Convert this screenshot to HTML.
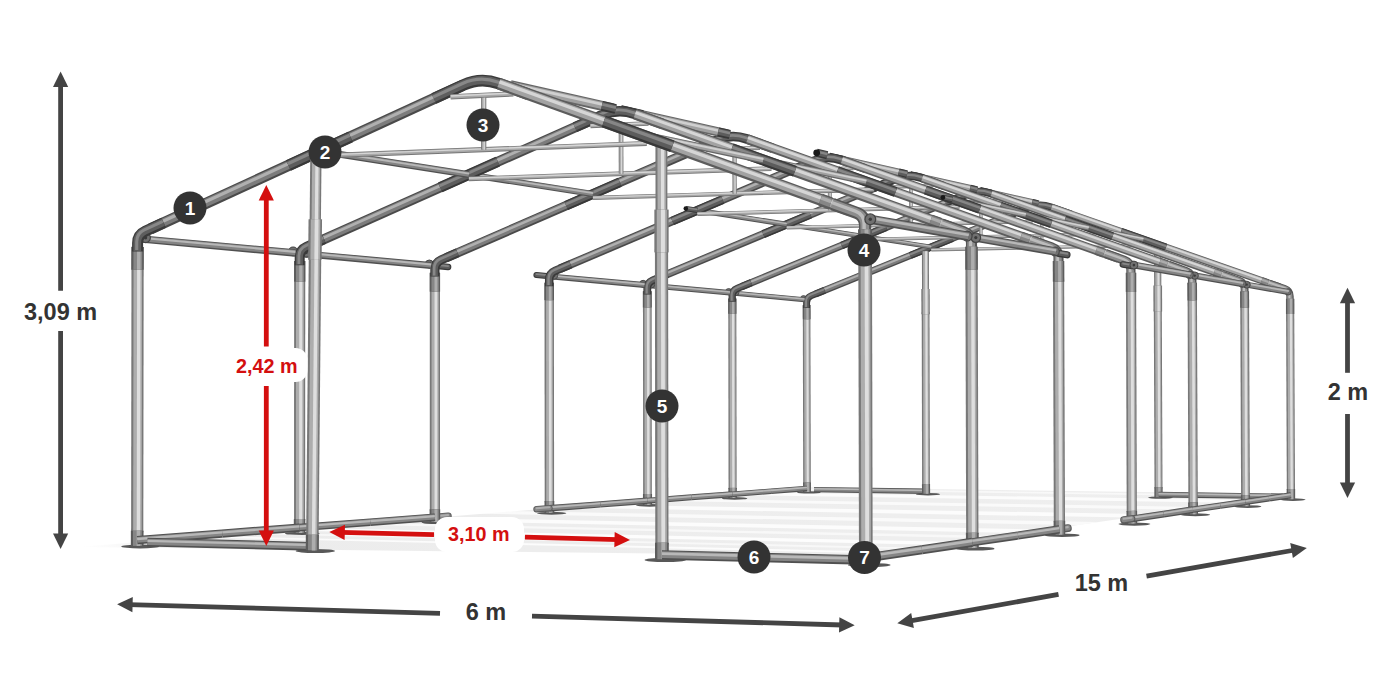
<!DOCTYPE html>
<html><head><meta charset="utf-8"><title>Tent frame 6 m x 15 m</title>
<style>html,body{margin:0;padding:0;background:#fff}svg{display:block}text{font-family:"Liberation Sans",sans-serif;font-weight:bold}</style>
</head><body>
<svg width="1400" height="700" viewBox="0 0 1400 700">
<rect width="1400" height="700" fill="#fff"/>
<g id="floor"><defs><linearGradient id="fg" x1="0" x2="1" y1="0" y2="0"><stop offset="0" stop-color="#f4f4f4" stop-opacity="0"/><stop offset="0.08" stop-color="#ececec"/><stop offset="1" stop-color="#efefef"/></linearGradient></defs><polygon points="78.0,547.0 865.8,555.9 1290.9,494.1 807.0,487.3 807.0,487.3" fill="url(#fg)"/><polygon points="129.8,535.7 882.1,553.5 893.5,551.9 147.2,534.4" fill="#fff" opacity="0.8"/><polygon points="174.4,532.4 911.2,549.3 921.9,547.7 191.0,531.1" fill="#fff" opacity="0.6"/><polygon points="220.0,529.0 940.7,545.0 960.7,542.1 251.2,526.7" fill="#fff" opacity="0.85"/><polygon points="292.9,523.5 987.4,538.2 1002.1,536.1 315.9,521.8" fill="#fff" opacity="0.6"/><polygon points="349.1,519.4 1023.1,533.0 1046.6,529.6 386.2,516.6" fill="#fff" opacity="0.8"/><polygon points="436.2,512.9 1078.0,525.1 1098.6,522.0 469.3,510.4" fill="#fff" opacity="0.7"/><polygon points="518.5,506.8 1129.2,517.6 1152.5,514.2 556.3,503.9" fill="#fff" opacity="0.8"/><polygon points="607.4,500.1 1183.9,509.7 1202.0,507.0 637.1,497.9" fill="#fff" opacity="0.7"/><polygon points="685.8,494.3 1231.6,502.7 1251.3,499.9 718.4,491.9" fill="#fff" opacity="0.8"/><polygon points="752.4,489.3 1271.7,496.9 1282.3,495.3 770.1,488.0" fill="#fff" opacity="0.6"/></g>
<g id="frame">
<ellipse cx="808.9" cy="492.4" rx="11.9" ry="1.2" fill="#585858"/>
<path d="M807.0 483.5 L806.6 305.1" stroke="#787878" stroke-width="7.6" stroke-linecap="butt" stroke-linejoin="round" fill="none"/><path d="M807.0 483.5 L806.6 305.1" transform="translate(0.15 0.00)" stroke="#adadad" stroke-width="5.3" stroke-linecap="butt" stroke-linejoin="round" fill="none"/><path d="M807.0 483.5 L806.6 305.1" transform="translate(0.76 0.00)" stroke="#dedede" stroke-width="2.1" stroke-linecap="butt" stroke-linejoin="round" fill="none"/>
<path d="M806.7 319.3 L806.6 305.1" stroke="#5c5c5c" stroke-width="7.8" stroke-linecap="butt" stroke-linejoin="round" fill="none"/><path d="M806.7 319.3 L806.6 305.1" transform="translate(0.16 0.00)" stroke="#868686" stroke-width="5.4" stroke-linecap="butt" stroke-linejoin="round" fill="none"/><path d="M806.7 319.3 L806.6 305.1" transform="translate(0.78 0.00)" stroke="#adadad" stroke-width="2.2" stroke-linecap="butt" stroke-linejoin="round" fill="none"/>
<path d="M807.0 492.0 L807.0 482.5" stroke="#5c5c5c" stroke-width="7.9" stroke-linecap="butt" stroke-linejoin="round" fill="none"/><path d="M807.0 492.0 L807.0 482.5" transform="translate(0.16 0.00)" stroke="#868686" stroke-width="5.6" stroke-linecap="butt" stroke-linejoin="round" fill="none"/><path d="M807.0 492.0 L807.0 482.5" transform="translate(0.79 0.00)" stroke="#adadad" stroke-width="2.2" stroke-linecap="butt" stroke-linejoin="round" fill="none"/>
<path d="M771.0 491.2 L807.0 488.4" stroke="#505050" stroke-width="5.5" stroke-linecap="butt" stroke-linejoin="round" fill="none"/><path d="M771.0 491.2 L807.0 488.4" transform="translate(-0.02 -0.22)" stroke="#858585" stroke-width="3.9" stroke-linecap="butt" stroke-linejoin="round" fill="none"/><path d="M771.0 491.2 L807.0 488.4" transform="translate(-0.06 -0.83)" stroke="#b8b8b8" stroke-width="1.6" stroke-linecap="butt" stroke-linejoin="round" fill="none"/>
<ellipse cx="928.0" cy="494.2" rx="12.1" ry="1.2" fill="#585858"/>
<path d="M814.0 489.6 L926.1 491.3" stroke="#505050" stroke-width="5.4" stroke-linecap="butt" stroke-linejoin="round" fill="none"/><path d="M814.0 489.6 L926.1 491.3" transform="translate(0.00 -0.22)" stroke="#858585" stroke-width="3.8" stroke-linecap="butt" stroke-linejoin="round" fill="none"/><path d="M814.0 489.6 L926.1 491.3" transform="translate(0.01 -0.81)" stroke="#b8b8b8" stroke-width="1.5" stroke-linecap="butt" stroke-linejoin="round" fill="none"/>
<circle cx="803.5" cy="298.6" r="3.0" fill="#707070" stroke="#444" stroke-width="0.8"/><circle cx="803.5" cy="298.6" r="1.0" fill="#3a3a3a"/>
<path d="M815.6 293.9 L1027.6 207.9" stroke="#4a4a4a" stroke-width="7.0" stroke-linecap="butt" stroke-linejoin="round" fill="none"/><path d="M815.6 293.9 L1027.6 207.9" transform="translate(-0.10 -0.26)" stroke="#7c7c7c" stroke-width="4.9" stroke-linecap="butt" stroke-linejoin="round" fill="none"/><path d="M815.6 293.9 L1027.6 207.9" transform="translate(-0.39 -0.97)" stroke="#b0b0b0" stroke-width="2.0" stroke-linecap="butt" stroke-linejoin="round" fill="none"/>
<path d="M910.3 255.5 L952.4 238.4" stroke="#383838" stroke-width="7.2" stroke-linecap="butt" stroke-linejoin="round" fill="none"/><path d="M910.3 255.5 L952.4 238.4" transform="translate(-0.11 -0.27)" stroke="#5c5c5c" stroke-width="5.0" stroke-linecap="butt" stroke-linejoin="round" fill="none"/><path d="M910.3 255.5 L952.4 238.4" transform="translate(-0.41 -1.00)" stroke="#868686" stroke-width="2.0" stroke-linecap="butt" stroke-linejoin="round" fill="none"/>
<path d="M925.6 314.2 L925.4 251.3" stroke="#787878" stroke-width="7.0" stroke-linecap="butt" stroke-linejoin="round" fill="none"/><path d="M925.6 314.2 L925.4 251.3" transform="translate(0.14 0.00)" stroke="#adadad" stroke-width="4.9" stroke-linecap="butt" stroke-linejoin="round" fill="none"/><path d="M925.6 314.2 L925.4 251.3" transform="translate(0.70 0.00)" stroke="#dedede" stroke-width="2.0" stroke-linecap="butt" stroke-linejoin="round" fill="none"/>
<path d="M806.6 307.9 L806.6 302.7 Q806.6 297.5 811.4 295.6 L824.7 290.2" stroke="#3a3a3a" stroke-width="6.9" stroke-linecap="butt" stroke-linejoin="round" fill="none"/><path d="M806.6 307.9 L806.6 302.7 Q806.6 297.5 811.4 295.6 L824.7 290.2" transform="translate(-0.21 -0.27)" stroke="#5e5e5e" stroke-width="4.8" stroke-linecap="butt" stroke-linejoin="round" fill="none"/><path d="M806.6 307.9 L806.6 302.7 Q806.6 297.5 811.4 295.6 L824.7 290.2" transform="translate(-0.55 -0.89)" stroke="#888888" stroke-width="1.9" stroke-linecap="butt" stroke-linejoin="round" fill="none"/>
<path d="M1008.4 215.7 L1028.9 207.4 Q1039.6 203.0 1050.6 206.9 L1071.2 214.1" stroke="#3a3a3a" stroke-width="7.1" stroke-linecap="butt" stroke-linejoin="round" fill="none"/><path d="M1008.4 215.7 L1028.9 207.4 Q1039.6 203.0 1050.6 206.9 L1071.2 214.1" transform="translate(-0.21 -0.28)" stroke="#5e5e5e" stroke-width="5.0" stroke-linecap="butt" stroke-linejoin="round" fill="none"/><path d="M1008.4 215.7 L1028.9 207.4 Q1039.6 203.0 1050.6 206.9 L1071.2 214.1" transform="translate(-0.57 -0.92)" stroke="#888888" stroke-width="2.0" stroke-linecap="butt" stroke-linejoin="round" fill="none"/>
<path d="M926.0 485.1 L925.6 312.2" stroke="#787878" stroke-width="7.8" stroke-linecap="butt" stroke-linejoin="round" fill="none"/><path d="M926.0 485.1 L925.6 312.2" transform="translate(0.16 0.00)" stroke="#adadad" stroke-width="5.4" stroke-linecap="butt" stroke-linejoin="round" fill="none"/><path d="M926.0 485.1 L925.6 312.2" transform="translate(0.78 0.00)" stroke="#dedede" stroke-width="2.2" stroke-linecap="butt" stroke-linejoin="round" fill="none"/>
<path d="M925.6 314.2 L925.5 289.1" stroke="#787878" stroke-width="8.4" stroke-linecap="butt" stroke-linejoin="round" fill="none"/><path d="M925.6 314.2 L925.5 289.1" transform="translate(0.17 0.00)" stroke="#adadad" stroke-width="5.9" stroke-linecap="butt" stroke-linejoin="round" fill="none"/><path d="M925.6 314.2 L925.5 289.1" transform="translate(0.84 0.00)" stroke="#dedede" stroke-width="2.3" stroke-linecap="butt" stroke-linejoin="round" fill="none"/>
<path d="M926.1 493.8 L926.0 484.1" stroke="#5c5c5c" stroke-width="8.1" stroke-linecap="butt" stroke-linejoin="round" fill="none"/><path d="M926.1 493.8 L926.0 484.1" transform="translate(0.16 0.00)" stroke="#868686" stroke-width="5.6" stroke-linecap="butt" stroke-linejoin="round" fill="none"/><path d="M926.1 493.8 L926.0 484.1" transform="translate(0.81 0.00)" stroke="#adadad" stroke-width="2.3" stroke-linecap="butt" stroke-linejoin="round" fill="none"/>
<path d="M734.6 293.3 L804.5 299.7" stroke="#505050" stroke-width="5.0" stroke-linecap="butt" stroke-linejoin="round" fill="none"/><path d="M734.6 293.3 L804.5 299.7" transform="translate(0.02 -0.20)" stroke="#848484" stroke-width="3.5" stroke-linecap="butt" stroke-linejoin="round" fill="none"/><path d="M734.6 293.3 L804.5 299.7" transform="translate(0.07 -0.75)" stroke="#b8b8b8" stroke-width="1.4" stroke-linecap="butt" stroke-linejoin="round" fill="none"/>
<path d="M931.3 249.9 L1149.3 245.3" stroke="#767676" stroke-width="3.2" stroke-linecap="butt" stroke-linejoin="round" fill="none"/><path d="M931.3 249.9 L1149.3 245.3" transform="translate(-0.00 -0.13)" stroke="#a8a8a8" stroke-width="2.2" stroke-linecap="butt" stroke-linejoin="round" fill="none"/><path d="M931.3 249.9 L1149.3 245.3" transform="translate(-0.01 -0.47)" stroke="#d6d6d6" stroke-width="0.9" stroke-linecap="butt" stroke-linejoin="round" fill="none"/>
<path d="M1019.6 214.8 L1061.5 213.8" stroke="#767676" stroke-width="3.2" stroke-linecap="butt" stroke-linejoin="round" fill="none"/><path d="M1019.6 214.8 L1061.5 213.8" transform="translate(-0.00 -0.13)" stroke="#a8a8a8" stroke-width="2.2" stroke-linecap="butt" stroke-linejoin="round" fill="none"/><path d="M1019.6 214.8 L1061.5 213.8" transform="translate(-0.01 -0.47)" stroke="#d6d6d6" stroke-width="0.9" stroke-linecap="butt" stroke-linejoin="round" fill="none"/>
<path d="M1041.7 215.7 L1041.8 247.6" stroke="#767676" stroke-width="3.2" stroke-linecap="butt" stroke-linejoin="round" fill="none"/><path d="M1041.7 215.7 L1041.8 247.6" transform="translate(0.06 0.00)" stroke="#a8a8a8" stroke-width="2.2" stroke-linecap="butt" stroke-linejoin="round" fill="none"/><path d="M1041.7 215.7 L1041.8 247.6" transform="translate(0.32 0.00)" stroke="#d6d6d6" stroke-width="0.9" stroke-linecap="butt" stroke-linejoin="round" fill="none"/>
<ellipse cx="1160.5" cy="497.6" rx="12.5" ry="1.2" fill="#585858"/>
<path d="M863.9 236.4 L931.3 247.0" stroke="#505050" stroke-width="4.6" stroke-linecap="butt" stroke-linejoin="round" fill="none"/><path d="M863.9 236.4 L931.3 247.0" transform="translate(0.03 -0.18)" stroke="#848484" stroke-width="3.2" stroke-linecap="butt" stroke-linejoin="round" fill="none"/><path d="M863.9 236.4 L931.3 247.0" transform="translate(0.11 -0.68)" stroke="#b8b8b8" stroke-width="1.3" stroke-linecap="butt" stroke-linejoin="round" fill="none"/>
<path d="M1157.8 311.5 L1157.6 246.3" stroke="#787878" stroke-width="7.2" stroke-linecap="butt" stroke-linejoin="round" fill="none"/><path d="M1157.8 311.5 L1157.6 246.3" transform="translate(0.14 0.00)" stroke="#adadad" stroke-width="5.0" stroke-linecap="butt" stroke-linejoin="round" fill="none"/><path d="M1157.8 311.5 L1157.6 246.3" transform="translate(0.72 0.00)" stroke="#dedede" stroke-width="2.0" stroke-linecap="butt" stroke-linejoin="round" fill="none"/>
<path d="M1279.7 287.0 L1051.7 207.3" stroke="#5c5c5c" stroke-width="7.2" stroke-linecap="butt" stroke-linejoin="round" fill="none"/><path d="M1279.7 287.0 L1051.7 207.3" transform="translate(0.10 -0.27)" stroke="#a2a2a2" stroke-width="5.1" stroke-linecap="butt" stroke-linejoin="round" fill="none"/><path d="M1279.7 287.0 L1051.7 207.3" transform="translate(0.36 -1.02)" stroke="#d6d6d6" stroke-width="2.0" stroke-linecap="butt" stroke-linejoin="round" fill="none"/>
<path d="M1158.5 488.2 L1157.8 309.5" stroke="#787878" stroke-width="8.0" stroke-linecap="butt" stroke-linejoin="round" fill="none"/><path d="M1158.5 488.2 L1157.8 309.5" transform="translate(0.16 0.00)" stroke="#adadad" stroke-width="5.6" stroke-linecap="butt" stroke-linejoin="round" fill="none"/><path d="M1158.5 488.2 L1157.8 309.5" transform="translate(0.80 0.00)" stroke="#dedede" stroke-width="2.2" stroke-linecap="butt" stroke-linejoin="round" fill="none"/>
<path d="M1157.8 311.5 L1157.7 285.6" stroke="#787878" stroke-width="8.7" stroke-linecap="butt" stroke-linejoin="round" fill="none"/><path d="M1157.8 311.5 L1157.7 285.6" transform="translate(0.17 0.00)" stroke="#adadad" stroke-width="6.1" stroke-linecap="butt" stroke-linejoin="round" fill="none"/><path d="M1157.8 311.5 L1157.7 285.6" transform="translate(0.87 0.00)" stroke="#dedede" stroke-width="2.4" stroke-linecap="butt" stroke-linejoin="round" fill="none"/>
<path d="M1165.9 247.2 L1121.1 231.6" stroke="#383838" stroke-width="7.4" stroke-linecap="butt" stroke-linejoin="round" fill="none"/><path d="M1165.9 247.2 L1121.1 231.6" transform="translate(0.10 -0.28)" stroke="#5c5c5c" stroke-width="5.2" stroke-linecap="butt" stroke-linejoin="round" fill="none"/><path d="M1165.9 247.2 L1121.1 231.6" transform="translate(0.37 -1.05)" stroke="#868686" stroke-width="2.1" stroke-linecap="butt" stroke-linejoin="round" fill="none"/>
<ellipse cx="734.6" cy="498.4" rx="12.7" ry="1.3" fill="#585858"/>
<path d="M1158.5 497.2 L1158.5 487.2" stroke="#5c5c5c" stroke-width="8.3" stroke-linecap="butt" stroke-linejoin="round" fill="none"/><path d="M1158.5 497.2 L1158.5 487.2" transform="translate(0.17 0.00)" stroke="#868686" stroke-width="5.8" stroke-linecap="butt" stroke-linejoin="round" fill="none"/><path d="M1158.5 497.2 L1158.5 487.2" transform="translate(0.83 0.00)" stroke="#adadad" stroke-width="2.3" stroke-linecap="butt" stroke-linejoin="round" fill="none"/>
<path d="M1290.1 301.9 L1290.0 296.3 Q1290.0 290.7 1284.7 288.8 L1269.3 283.4" stroke="#565656" stroke-width="7.4" stroke-linecap="butt" stroke-linejoin="round" fill="none"/><path d="M1290.1 301.9 L1290.0 296.3 Q1290.0 290.7 1284.7 288.8 L1269.3 283.4" transform="translate(-0.22 -0.29)" stroke="#8c8c8c" stroke-width="5.2" stroke-linecap="butt" stroke-linejoin="round" fill="none"/><path d="M1290.1 301.9 L1290.0 296.3 Q1290.0 290.7 1284.7 288.8 L1269.3 283.4" transform="translate(-0.59 -0.96)" stroke="#bcbcbc" stroke-width="2.1" stroke-linecap="butt" stroke-linejoin="round" fill="none"/>
<path d="M1268.0 283.0 L1261.6 280.7" stroke="#5c5c5c" stroke-width="7.5" stroke-linecap="butt" stroke-linejoin="round" fill="none"/><path d="M1268.0 283.0 L1261.6 280.7" transform="translate(0.10 -0.28)" stroke="#868686" stroke-width="5.2" stroke-linecap="butt" stroke-linejoin="round" fill="none"/><path d="M1268.0 283.0 L1261.6 280.7" transform="translate(0.37 -1.06)" stroke="#adadad" stroke-width="2.1" stroke-linecap="butt" stroke-linejoin="round" fill="none"/>
<ellipse cx="1292.9" cy="499.6" rx="12.7" ry="1.3" fill="#585858"/>
<path d="M1158.5 494.6 L1282.8 496.4" stroke="#505050" stroke-width="5.7" stroke-linecap="butt" stroke-linejoin="round" fill="none"/><path d="M1158.5 494.6 L1282.8 496.4" transform="translate(0.00 -0.23)" stroke="#858585" stroke-width="4.0" stroke-linecap="butt" stroke-linejoin="round" fill="none"/><path d="M1158.5 494.6 L1282.8 496.4" transform="translate(0.01 -0.86)" stroke="#b8b8b8" stroke-width="1.6" stroke-linecap="butt" stroke-linejoin="round" fill="none"/>
<path d="M732.6 488.9 L732.3 298.6" stroke="#787878" stroke-width="8.1" stroke-linecap="butt" stroke-linejoin="round" fill="none"/><path d="M732.6 488.9 L732.3 298.6" transform="translate(0.16 0.00)" stroke="#adadad" stroke-width="5.7" stroke-linecap="butt" stroke-linejoin="round" fill="none"/><path d="M732.6 488.9 L732.3 298.6" transform="translate(0.81 0.00)" stroke="#dedede" stroke-width="2.3" stroke-linecap="butt" stroke-linejoin="round" fill="none"/>
<path d="M732.3 313.8 L732.3 298.6" stroke="#5c5c5c" stroke-width="8.3" stroke-linecap="butt" stroke-linejoin="round" fill="none"/><path d="M732.3 313.8 L732.3 298.6" transform="translate(0.17 0.00)" stroke="#868686" stroke-width="5.8" stroke-linecap="butt" stroke-linejoin="round" fill="none"/><path d="M732.3 313.8 L732.3 298.6" transform="translate(0.83 0.00)" stroke="#adadad" stroke-width="2.3" stroke-linecap="butt" stroke-linejoin="round" fill="none"/>
<path d="M732.6 498.0 L732.6 487.9" stroke="#5c5c5c" stroke-width="8.5" stroke-linecap="butt" stroke-linejoin="round" fill="none"/><path d="M732.6 498.0 L732.6 487.9" transform="translate(0.17 0.00)" stroke="#868686" stroke-width="5.9" stroke-linecap="butt" stroke-linejoin="round" fill="none"/><path d="M732.6 498.0 L732.6 487.9" transform="translate(0.85 0.00)" stroke="#adadad" stroke-width="2.4" stroke-linecap="butt" stroke-linejoin="round" fill="none"/>
<path d="M979.9 190.6 L1037.3 203.5" stroke="#666666" stroke-width="6.8" stroke-linecap="butt" stroke-linejoin="round" fill="none"/><path d="M979.9 190.6 L1037.3 203.5" transform="translate(0.06 -0.26)" stroke="#a0a0a0" stroke-width="4.7" stroke-linecap="butt" stroke-linejoin="round" fill="none"/><path d="M979.9 190.6 L1037.3 203.5" transform="translate(0.22 -0.99)" stroke="#d0d0d0" stroke-width="1.9" stroke-linecap="butt" stroke-linejoin="round" fill="none"/>
<path d="M979.9 190.6 L991.5 193.2" stroke="#383838" stroke-width="7.2" stroke-linecap="butt" stroke-linejoin="round" fill="none"/><path d="M979.9 190.6 L991.5 193.2" transform="translate(0.06 -0.28)" stroke="#5c5c5c" stroke-width="5.0" stroke-linecap="butt" stroke-linejoin="round" fill="none"/><path d="M979.9 190.6 L991.5 193.2" transform="translate(0.24 -1.05)" stroke="#868686" stroke-width="2.0" stroke-linecap="butt" stroke-linejoin="round" fill="none"/>
<path d="M1032.2 202.3 L1038.5 203.8" stroke="#383838" stroke-width="6.8" stroke-linecap="butt" stroke-linejoin="round" fill="none"/><path d="M1032.2 202.3 L1038.5 203.8" transform="translate(0.06 -0.26)" stroke="#5c5c5c" stroke-width="4.7" stroke-linecap="butt" stroke-linejoin="round" fill="none"/><path d="M1032.2 202.3 L1038.5 203.8" transform="translate(0.22 -0.99)" stroke="#868686" stroke-width="1.9" stroke-linecap="butt" stroke-linejoin="round" fill="none"/>
<path d="M691.5 497.3 L732.6 494.2" stroke="#505050" stroke-width="5.9" stroke-linecap="butt" stroke-linejoin="round" fill="none"/><path d="M691.5 497.3 L732.6 494.2" transform="translate(-0.02 -0.24)" stroke="#858585" stroke-width="4.2" stroke-linecap="butt" stroke-linejoin="round" fill="none"/><path d="M691.5 497.3 L732.6 494.2" transform="translate(-0.07 -0.89)" stroke="#b8b8b8" stroke-width="1.7" stroke-linecap="butt" stroke-linejoin="round" fill="none"/>
<path d="M732.6 494.2 L771.0 491.2" stroke="#505050" stroke-width="5.5" stroke-linecap="butt" stroke-linejoin="round" fill="none"/><path d="M732.6 494.2 L771.0 491.2" transform="translate(-0.02 -0.22)" stroke="#858585" stroke-width="3.9" stroke-linecap="butt" stroke-linejoin="round" fill="none"/><path d="M732.6 494.2 L771.0 491.2" transform="translate(-0.06 -0.83)" stroke="#b8b8b8" stroke-width="1.6" stroke-linecap="butt" stroke-linejoin="round" fill="none"/>
<path d="M1290.9 490.0 L1290.1 298.8" stroke="#787878" stroke-width="8.2" stroke-linecap="butt" stroke-linejoin="round" fill="none"/><path d="M1290.9 490.0 L1290.1 298.8" transform="translate(0.16 0.00)" stroke="#adadad" stroke-width="5.7" stroke-linecap="butt" stroke-linejoin="round" fill="none"/><path d="M1290.9 490.0 L1290.1 298.8" transform="translate(0.82 0.00)" stroke="#dedede" stroke-width="2.3" stroke-linecap="butt" stroke-linejoin="round" fill="none"/>
<path d="M1290.1 314.0 L1290.1 298.8" stroke="#5c5c5c" stroke-width="8.3" stroke-linecap="butt" stroke-linejoin="round" fill="none"/><path d="M1290.1 314.0 L1290.1 298.8" transform="translate(0.17 0.00)" stroke="#868686" stroke-width="5.8" stroke-linecap="butt" stroke-linejoin="round" fill="none"/><path d="M1290.1 314.0 L1290.1 298.8" transform="translate(0.83 0.00)" stroke="#adadad" stroke-width="2.3" stroke-linecap="butt" stroke-linejoin="round" fill="none"/>
<path d="M1290.9 499.2 L1290.9 489.0" stroke="#5c5c5c" stroke-width="8.5" stroke-linecap="butt" stroke-linejoin="round" fill="none"/><path d="M1290.9 499.2 L1290.9 489.0" transform="translate(0.17 0.00)" stroke="#868686" stroke-width="6.0" stroke-linecap="butt" stroke-linejoin="round" fill="none"/><path d="M1290.9 499.2 L1290.9 489.0" transform="translate(0.85 0.00)" stroke="#adadad" stroke-width="2.4" stroke-linecap="butt" stroke-linejoin="round" fill="none"/>
<path d="M1269.0 498.5 L1290.9 495.3" stroke="#505050" stroke-width="6.0" stroke-linecap="butt" stroke-linejoin="round" fill="none"/><path d="M1269.0 498.5 L1290.9 495.3" transform="translate(-0.03 -0.24)" stroke="#858585" stroke-width="4.2" stroke-linecap="butt" stroke-linejoin="round" fill="none"/><path d="M1269.0 498.5 L1290.9 495.3" transform="translate(-0.13 -0.88)" stroke="#b8b8b8" stroke-width="1.7" stroke-linecap="butt" stroke-linejoin="round" fill="none"/>
<circle cx="735.8" cy="292.4" r="3.2" fill="#707070" stroke="#444" stroke-width="0.8"/><circle cx="735.8" cy="292.4" r="1.0" fill="#3a3a3a"/>
<circle cx="728.7" cy="291.7" r="3.2" fill="#707070" stroke="#444" stroke-width="0.8"/><circle cx="728.7" cy="291.7" r="1.0" fill="#3a3a3a"/>
<path d="M1088.7 228.0 L1143.4 239.4" stroke="#666666" stroke-width="4.7" stroke-linecap="butt" stroke-linejoin="round" fill="none"/><path d="M1088.7 228.0 L1143.4 239.4" transform="translate(0.04 -0.19)" stroke="#a0a0a0" stroke-width="3.3" stroke-linecap="butt" stroke-linejoin="round" fill="none"/><path d="M1088.7 228.0 L1143.4 239.4" transform="translate(0.15 -0.70)" stroke="#d0d0d0" stroke-width="1.3" stroke-linecap="butt" stroke-linejoin="round" fill="none"/>
<path d="M741.8 286.6 L965.9 194.5" stroke="#4a4a4a" stroke-width="7.5" stroke-linecap="butt" stroke-linejoin="round" fill="none"/><path d="M741.8 286.6 L965.9 194.5" transform="translate(-0.11 -0.28)" stroke="#7c7c7c" stroke-width="5.2" stroke-linecap="butt" stroke-linejoin="round" fill="none"/><path d="M741.8 286.6 L965.9 194.5" transform="translate(-0.43 -1.03)" stroke="#b0b0b0" stroke-width="2.1" stroke-linecap="butt" stroke-linejoin="round" fill="none"/>
<path d="M841.7 245.5 L886.2 227.3" stroke="#383838" stroke-width="7.7" stroke-linecap="butt" stroke-linejoin="round" fill="none"/><path d="M841.7 245.5 L886.2 227.3" transform="translate(-0.12 -0.28)" stroke="#5c5c5c" stroke-width="5.4" stroke-linecap="butt" stroke-linejoin="round" fill="none"/><path d="M841.7 245.5 L886.2 227.3" transform="translate(-0.44 -1.07)" stroke="#868686" stroke-width="2.2" stroke-linecap="butt" stroke-linejoin="round" fill="none"/>
<path d="M732.3 301.7 L732.2 296.1 Q732.2 290.5 737.4 288.4 L751.3 282.7" stroke="#3a3a3a" stroke-width="7.3" stroke-linecap="butt" stroke-linejoin="round" fill="none"/><path d="M732.3 301.7 L732.2 296.1 Q732.2 290.5 737.4 288.4 L751.3 282.7" transform="translate(-0.22 -0.29)" stroke="#5e5e5e" stroke-width="5.1" stroke-linecap="butt" stroke-linejoin="round" fill="none"/><path d="M732.3 301.7 L732.2 296.1 Q732.2 290.5 737.4 288.4 L751.3 282.7" transform="translate(-0.59 -0.95)" stroke="#888888" stroke-width="2.1" stroke-linecap="butt" stroke-linejoin="round" fill="none"/>
<path d="M945.6 202.9 L967.1 194.0 Q978.6 189.3 990.4 193.4 L1012.1 201.0" stroke="#3a3a3a" stroke-width="7.6" stroke-linecap="butt" stroke-linejoin="round" fill="none"/><path d="M945.6 202.9 L967.1 194.0 Q978.6 189.3 990.4 193.4 L1012.1 201.0" transform="translate(-0.23 -0.30)" stroke="#5e5e5e" stroke-width="5.3" stroke-linecap="butt" stroke-linejoin="round" fill="none"/><path d="M945.6 202.9 L967.1 194.0 Q978.6 189.3 990.4 193.4 L1012.1 201.0" transform="translate(-0.61 -0.99)" stroke="#888888" stroke-width="2.1" stroke-linecap="butt" stroke-linejoin="round" fill="none"/>
<circle cx="1288.1" cy="291.9" r="3.2" fill="#707070" stroke="#444" stroke-width="0.8"/><circle cx="1288.1" cy="291.9" r="1.0" fill="#3a3a3a"/>
<path d="M650.0 285.5 L729.9 292.8" stroke="#505050" stroke-width="5.4" stroke-linecap="butt" stroke-linejoin="round" fill="none"/><path d="M650.0 285.5 L729.9 292.8" transform="translate(0.02 -0.21)" stroke="#848484" stroke-width="3.8" stroke-linecap="butt" stroke-linejoin="round" fill="none"/><path d="M650.0 285.5 L729.9 292.8" transform="translate(0.07 -0.80)" stroke="#b8b8b8" stroke-width="1.5" stroke-linecap="butt" stroke-linejoin="round" fill="none"/>
<path d="M863.9 239.5 L1094.9 234.3" stroke="#767676" stroke-width="3.4" stroke-linecap="butt" stroke-linejoin="round" fill="none"/><path d="M863.9 239.5 L1094.9 234.3" transform="translate(-0.00 -0.14)" stroke="#a8a8a8" stroke-width="2.4" stroke-linecap="butt" stroke-linejoin="round" fill="none"/><path d="M863.9 239.5 L1094.9 234.3" transform="translate(-0.01 -0.51)" stroke="#d6d6d6" stroke-width="0.9" stroke-linecap="butt" stroke-linejoin="round" fill="none"/>
<path d="M957.4 201.9 L1001.8 200.7" stroke="#767676" stroke-width="3.4" stroke-linecap="butt" stroke-linejoin="round" fill="none"/><path d="M957.4 201.9 L1001.8 200.7" transform="translate(-0.00 -0.14)" stroke="#a8a8a8" stroke-width="2.4" stroke-linecap="butt" stroke-linejoin="round" fill="none"/><path d="M957.4 201.9 L1001.8 200.7" transform="translate(-0.01 -0.51)" stroke="#d6d6d6" stroke-width="0.9" stroke-linecap="butt" stroke-linejoin="round" fill="none"/>
<path d="M980.8 202.9 L980.9 236.9" stroke="#767676" stroke-width="3.4" stroke-linecap="butt" stroke-linejoin="round" fill="none"/><path d="M980.8 202.9 L980.9 236.9" transform="translate(0.07 0.00)" stroke="#a8a8a8" stroke-width="2.4" stroke-linecap="butt" stroke-linejoin="round" fill="none"/><path d="M980.8 202.9 L980.9 236.9" transform="translate(0.34 0.00)" stroke="#d6d6d6" stroke-width="0.9" stroke-linecap="butt" stroke-linejoin="round" fill="none"/>
<path d="M1246.1 284.6 L1288.7 292.0" stroke="#505050" stroke-width="6.0" stroke-linecap="butt" stroke-linejoin="round" fill="none"/><path d="M1246.1 284.6 L1288.7 292.0" transform="translate(0.04 -0.24)" stroke="#848484" stroke-width="4.2" stroke-linecap="butt" stroke-linejoin="round" fill="none"/><path d="M1246.1 284.6 L1288.7 292.0" transform="translate(0.16 -0.89)" stroke="#b8b8b8" stroke-width="1.7" stroke-linecap="butt" stroke-linejoin="round" fill="none"/>
<path d="M786.7 224.4 L863.9 236.4" stroke="#505050" stroke-width="4.9" stroke-linecap="butt" stroke-linejoin="round" fill="none"/><path d="M786.7 224.4 L863.9 236.4" transform="translate(0.03 -0.19)" stroke="#848484" stroke-width="3.4" stroke-linecap="butt" stroke-linejoin="round" fill="none"/><path d="M786.7 224.4 L863.9 236.4" transform="translate(0.11 -0.73)" stroke="#b8b8b8" stroke-width="1.4" stroke-linecap="butt" stroke-linejoin="round" fill="none"/>
<path d="M1233.6 278.8 L991.5 193.8" stroke="#5c5c5c" stroke-width="7.7" stroke-linecap="butt" stroke-linejoin="round" fill="none"/><path d="M1233.6 278.8 L991.5 193.8" transform="translate(0.10 -0.29)" stroke="#a2a2a2" stroke-width="5.4" stroke-linecap="butt" stroke-linejoin="round" fill="none"/><path d="M1233.6 278.8 L991.5 193.8" transform="translate(0.38 -1.10)" stroke="#d6d6d6" stroke-width="2.2" stroke-linecap="butt" stroke-linejoin="round" fill="none"/>
<path d="M1112.6 236.3 L1065.0 219.6" stroke="#383838" stroke-width="7.9" stroke-linecap="butt" stroke-linejoin="round" fill="none"/><path d="M1112.6 236.3 L1065.0 219.6" transform="translate(0.11 -0.30)" stroke="#5c5c5c" stroke-width="5.6" stroke-linecap="butt" stroke-linejoin="round" fill="none"/><path d="M1112.6 236.3 L1065.0 219.6" transform="translate(0.39 -1.12)" stroke="#868686" stroke-width="2.2" stroke-linecap="butt" stroke-linejoin="round" fill="none"/>
<ellipse cx="649.7" cy="505.3" rx="13.6" ry="1.4" fill="#585858"/>
<path d="M1244.6 294.7 L1244.6 288.7 Q1244.6 282.7 1238.9 280.7 L1222.6 274.9" stroke="#565656" stroke-width="7.9" stroke-linecap="butt" stroke-linejoin="round" fill="none"/><path d="M1244.6 294.7 L1244.6 288.7 Q1244.6 282.7 1238.9 280.7 L1222.6 274.9" transform="translate(-0.24 -0.32)" stroke="#8c8c8c" stroke-width="5.5" stroke-linecap="butt" stroke-linejoin="round" fill="none"/><path d="M1244.6 294.7 L1244.6 288.7 Q1244.6 282.7 1238.9 280.7 L1222.6 274.9" transform="translate(-0.63 -1.03)" stroke="#bcbcbc" stroke-width="2.2" stroke-linecap="butt" stroke-linejoin="round" fill="none"/>
<path d="M1221.2 274.5 L1214.3 272.0" stroke="#5c5c5c" stroke-width="8.0" stroke-linecap="butt" stroke-linejoin="round" fill="none"/><path d="M1221.2 274.5 L1214.3 272.0" transform="translate(0.11 -0.30)" stroke="#868686" stroke-width="5.6" stroke-linecap="butt" stroke-linejoin="round" fill="none"/><path d="M1221.2 274.5 L1214.3 272.0" transform="translate(0.40 -1.13)" stroke="#adadad" stroke-width="2.2" stroke-linecap="butt" stroke-linejoin="round" fill="none"/>
<ellipse cx="1247.7" cy="506.6" rx="13.6" ry="1.4" fill="#585858"/>
<path d="M647.5 495.1 L647.3 291.2" stroke="#787878" stroke-width="8.7" stroke-linecap="butt" stroke-linejoin="round" fill="none"/><path d="M647.5 495.1 L647.3 291.2" transform="translate(0.17 0.00)" stroke="#adadad" stroke-width="6.1" stroke-linecap="butt" stroke-linejoin="round" fill="none"/><path d="M647.5 495.1 L647.3 291.2" transform="translate(0.87 0.00)" stroke="#dedede" stroke-width="2.4" stroke-linecap="butt" stroke-linejoin="round" fill="none"/>
<path d="M647.3 307.5 L647.3 291.2" stroke="#5c5c5c" stroke-width="8.9" stroke-linecap="butt" stroke-linejoin="round" fill="none"/><path d="M647.3 307.5 L647.3 291.2" transform="translate(0.18 0.00)" stroke="#868686" stroke-width="6.2" stroke-linecap="butt" stroke-linejoin="round" fill="none"/><path d="M647.3 307.5 L647.3 291.2" transform="translate(0.89 0.00)" stroke="#adadad" stroke-width="2.5" stroke-linecap="butt" stroke-linejoin="round" fill="none"/>
<path d="M647.5 504.9 L647.5 494.0" stroke="#5c5c5c" stroke-width="9.1" stroke-linecap="butt" stroke-linejoin="round" fill="none"/><path d="M647.5 504.9 L647.5 494.0" transform="translate(0.18 0.00)" stroke="#868686" stroke-width="6.3" stroke-linecap="butt" stroke-linejoin="round" fill="none"/><path d="M647.5 504.9 L647.5 494.0" transform="translate(0.91 0.00)" stroke="#adadad" stroke-width="2.5" stroke-linecap="butt" stroke-linejoin="round" fill="none"/>
<path d="M910.1 175.0 L976.0 189.8" stroke="#666666" stroke-width="7.2" stroke-linecap="butt" stroke-linejoin="round" fill="none"/><path d="M910.1 175.0 L976.0 189.8" transform="translate(0.06 -0.28)" stroke="#a0a0a0" stroke-width="5.1" stroke-linecap="butt" stroke-linejoin="round" fill="none"/><path d="M910.1 175.0 L976.0 189.8" transform="translate(0.24 -1.06)" stroke="#d0d0d0" stroke-width="2.0" stroke-linecap="butt" stroke-linejoin="round" fill="none"/>
<path d="M910.1 175.0 L923.4 178.0" stroke="#383838" stroke-width="7.7" stroke-linecap="butt" stroke-linejoin="round" fill="none"/><path d="M910.1 175.0 L923.4 178.0" transform="translate(0.07 -0.30)" stroke="#5c5c5c" stroke-width="5.4" stroke-linecap="butt" stroke-linejoin="round" fill="none"/><path d="M910.1 175.0 L923.4 178.0" transform="translate(0.25 -1.13)" stroke="#868686" stroke-width="2.2" stroke-linecap="butt" stroke-linejoin="round" fill="none"/>
<path d="M970.1 188.4 L977.3 190.0" stroke="#383838" stroke-width="7.3" stroke-linecap="butt" stroke-linejoin="round" fill="none"/><path d="M970.1 188.4 L977.3 190.0" transform="translate(0.06 -0.28)" stroke="#5c5c5c" stroke-width="5.1" stroke-linecap="butt" stroke-linejoin="round" fill="none"/><path d="M970.1 188.4 L977.3 190.0" transform="translate(0.24 -1.06)" stroke="#868686" stroke-width="2.0" stroke-linecap="butt" stroke-linejoin="round" fill="none"/>
<path d="M600.3 504.4 L647.5 500.7" stroke="#505050" stroke-width="6.4" stroke-linecap="butt" stroke-linejoin="round" fill="none"/><path d="M600.3 504.4 L647.5 500.7" transform="translate(-0.02 -0.25)" stroke="#858585" stroke-width="4.5" stroke-linecap="butt" stroke-linejoin="round" fill="none"/><path d="M600.3 504.4 L647.5 500.7" transform="translate(-0.07 -0.95)" stroke="#b8b8b8" stroke-width="1.8" stroke-linecap="butt" stroke-linejoin="round" fill="none"/>
<path d="M647.5 500.7 L691.5 497.3" stroke="#505050" stroke-width="5.9" stroke-linecap="butt" stroke-linejoin="round" fill="none"/><path d="M647.5 500.7 L691.5 497.3" transform="translate(-0.02 -0.24)" stroke="#858585" stroke-width="4.2" stroke-linecap="butt" stroke-linejoin="round" fill="none"/><path d="M647.5 500.7 L691.5 497.3" transform="translate(-0.07 -0.89)" stroke="#b8b8b8" stroke-width="1.7" stroke-linecap="butt" stroke-linejoin="round" fill="none"/>
<path d="M1245.5 496.3 L1244.6 291.4" stroke="#787878" stroke-width="8.8" stroke-linecap="butt" stroke-linejoin="round" fill="none"/><path d="M1245.5 496.3 L1244.6 291.4" transform="translate(0.18 0.00)" stroke="#adadad" stroke-width="6.1" stroke-linecap="butt" stroke-linejoin="round" fill="none"/><path d="M1245.5 496.3 L1244.6 291.4" transform="translate(0.88 0.00)" stroke="#dedede" stroke-width="2.5" stroke-linecap="butt" stroke-linejoin="round" fill="none"/>
<path d="M1244.7 307.7 L1244.6 291.4" stroke="#5c5c5c" stroke-width="8.9" stroke-linecap="butt" stroke-linejoin="round" fill="none"/><path d="M1244.7 307.7 L1244.6 291.4" transform="translate(0.18 0.00)" stroke="#868686" stroke-width="6.2" stroke-linecap="butt" stroke-linejoin="round" fill="none"/><path d="M1244.7 307.7 L1244.6 291.4" transform="translate(0.89 0.00)" stroke="#adadad" stroke-width="2.5" stroke-linecap="butt" stroke-linejoin="round" fill="none"/>
<path d="M1245.5 506.2 L1245.5 495.2" stroke="#5c5c5c" stroke-width="9.1" stroke-linecap="butt" stroke-linejoin="round" fill="none"/><path d="M1245.5 506.2 L1245.5 495.2" transform="translate(0.18 0.00)" stroke="#868686" stroke-width="6.4" stroke-linecap="butt" stroke-linejoin="round" fill="none"/><path d="M1245.5 506.2 L1245.5 495.2" transform="translate(0.91 0.00)" stroke="#adadad" stroke-width="2.6" stroke-linecap="butt" stroke-linejoin="round" fill="none"/>
<path d="M1220.3 505.7 L1245.5 502.0" stroke="#505050" stroke-width="6.4" stroke-linecap="butt" stroke-linejoin="round" fill="none"/><path d="M1220.3 505.7 L1245.5 502.0" transform="translate(-0.04 -0.25)" stroke="#858585" stroke-width="4.5" stroke-linecap="butt" stroke-linejoin="round" fill="none"/><path d="M1220.3 505.7 L1245.5 502.0" transform="translate(-0.14 -0.95)" stroke="#b8b8b8" stroke-width="1.8" stroke-linecap="butt" stroke-linejoin="round" fill="none"/>
<path d="M1245.5 502.0 L1269.0 498.5" stroke="#505050" stroke-width="6.0" stroke-linecap="butt" stroke-linejoin="round" fill="none"/><path d="M1245.5 502.0 L1269.0 498.5" transform="translate(-0.03 -0.24)" stroke="#858585" stroke-width="4.2" stroke-linecap="butt" stroke-linejoin="round" fill="none"/><path d="M1245.5 502.0 L1269.0 498.5" transform="translate(-0.13 -0.88)" stroke="#b8b8b8" stroke-width="1.7" stroke-linecap="butt" stroke-linejoin="round" fill="none"/>
<circle cx="651.3" cy="284.6" r="3.4" fill="#707070" stroke="#444" stroke-width="0.9"/><circle cx="651.3" cy="284.6" r="1.1" fill="#3a3a3a"/>
<circle cx="1246.8" cy="284.7" r="3.5" fill="#707070" stroke="#444" stroke-width="0.9"/><circle cx="1246.8" cy="284.7" r="1.1" fill="#3a3a3a"/>
<circle cx="643.1" cy="283.8" r="3.5" fill="#707070" stroke="#444" stroke-width="0.9"/><circle cx="643.1" cy="283.8" r="1.1" fill="#3a3a3a"/>
<path d="M1025.8 214.8 L1088.7 228.0" stroke="#666666" stroke-width="5.1" stroke-linecap="butt" stroke-linejoin="round" fill="none"/><path d="M1025.8 214.8 L1088.7 228.0" transform="translate(0.04 -0.20)" stroke="#a0a0a0" stroke-width="3.6" stroke-linecap="butt" stroke-linejoin="round" fill="none"/><path d="M1025.8 214.8 L1088.7 228.0" transform="translate(0.16 -0.75)" stroke="#d0d0d0" stroke-width="1.4" stroke-linecap="butt" stroke-linejoin="round" fill="none"/>
<path d="M657.3 278.4 L895.0 179.2" stroke="#4a4a4a" stroke-width="8.0" stroke-linecap="butt" stroke-linejoin="round" fill="none"/><path d="M657.3 278.4 L895.0 179.2" transform="translate(-0.12 -0.30)" stroke="#7c7c7c" stroke-width="5.6" stroke-linecap="butt" stroke-linejoin="round" fill="none"/><path d="M657.3 278.4 L895.0 179.2" transform="translate(-0.46 -1.11)" stroke="#b0b0b0" stroke-width="2.2" stroke-linecap="butt" stroke-linejoin="round" fill="none"/>
<path d="M763.2 234.2 L810.4 214.5" stroke="#383838" stroke-width="8.3" stroke-linecap="butt" stroke-linejoin="round" fill="none"/><path d="M763.2 234.2 L810.4 214.5" transform="translate(-0.13 -0.30)" stroke="#5c5c5c" stroke-width="5.8" stroke-linecap="butt" stroke-linejoin="round" fill="none"/><path d="M763.2 234.2 L810.4 214.5" transform="translate(-0.48 -1.14)" stroke="#868686" stroke-width="2.3" stroke-linecap="butt" stroke-linejoin="round" fill="none"/>
<path d="M647.3 294.5 L647.3 288.5 Q647.3 282.6 652.8 280.3 L667.4 274.2" stroke="#3a3a3a" stroke-width="7.8" stroke-linecap="butt" stroke-linejoin="round" fill="none"/><path d="M647.3 294.5 L647.3 288.5 Q647.3 282.6 652.8 280.3 L667.4 274.2" transform="translate(-0.24 -0.31)" stroke="#5e5e5e" stroke-width="5.5" stroke-linecap="butt" stroke-linejoin="round" fill="none"/><path d="M647.3 294.5 L647.3 288.5 Q647.3 282.6 652.8 280.3 L667.4 274.2" transform="translate(-0.63 -1.02)" stroke="#888888" stroke-width="2.2" stroke-linecap="butt" stroke-linejoin="round" fill="none"/>
<path d="M873.4 188.2 L896.3 178.6 Q908.6 173.5 921.2 177.9 L944.1 186.0" stroke="#3a3a3a" stroke-width="8.2" stroke-linecap="butt" stroke-linejoin="round" fill="none"/><path d="M873.4 188.2 L896.3 178.6 Q908.6 173.5 921.2 177.9 L944.1 186.0" transform="translate(-0.24 -0.33)" stroke="#5e5e5e" stroke-width="5.7" stroke-linecap="butt" stroke-linejoin="round" fill="none"/><path d="M873.4 188.2 L896.3 178.6 Q908.6 173.5 921.2 177.9 L944.1 186.0" transform="translate(-0.65 -1.06)" stroke="#888888" stroke-width="2.3" stroke-linecap="butt" stroke-linejoin="round" fill="none"/>
<circle cx="1242.4" cy="283.9" r="3.5" fill="#707070" stroke="#444" stroke-width="0.9"/><circle cx="1242.4" cy="283.9" r="1.1" fill="#3a3a3a"/>
<path d="M552.4 276.6 L644.5 285.0" stroke="#505050" stroke-width="5.8" stroke-linecap="butt" stroke-linejoin="round" fill="none"/><path d="M552.4 276.6 L644.5 285.0" transform="translate(0.02 -0.23)" stroke="#848484" stroke-width="4.0" stroke-linecap="butt" stroke-linejoin="round" fill="none"/><path d="M552.4 276.6 L644.5 285.0" transform="translate(0.08 -0.86)" stroke="#b8b8b8" stroke-width="1.6" stroke-linecap="butt" stroke-linejoin="round" fill="none"/>
<path d="M786.7 227.7 L1032.4 221.6" stroke="#767676" stroke-width="3.6" stroke-linecap="butt" stroke-linejoin="round" fill="none"/><path d="M786.7 227.7 L1032.4 221.6" transform="translate(-0.00 -0.15)" stroke="#a8a8a8" stroke-width="2.5" stroke-linecap="butt" stroke-linejoin="round" fill="none"/><path d="M786.7 227.7 L1032.4 221.6" transform="translate(-0.01 -0.54)" stroke="#d6d6d6" stroke-width="1.0" stroke-linecap="butt" stroke-linejoin="round" fill="none"/>
<path d="M886.0 187.1 L933.2 185.7" stroke="#767676" stroke-width="3.6" stroke-linecap="butt" stroke-linejoin="round" fill="none"/><path d="M886.0 187.1 L933.2 185.7" transform="translate(-0.00 -0.15)" stroke="#a8a8a8" stroke-width="2.5" stroke-linecap="butt" stroke-linejoin="round" fill="none"/><path d="M886.0 187.1 L933.2 185.7" transform="translate(-0.02 -0.54)" stroke="#d6d6d6" stroke-width="1.0" stroke-linecap="butt" stroke-linejoin="round" fill="none"/>
<path d="M910.9 188.1 L911.0 224.6" stroke="#767676" stroke-width="3.6" stroke-linecap="butt" stroke-linejoin="round" fill="none"/><path d="M910.9 188.1 L911.0 224.6" transform="translate(0.07 0.00)" stroke="#a8a8a8" stroke-width="2.5" stroke-linecap="butt" stroke-linejoin="round" fill="none"/><path d="M910.9 188.1 L911.0 224.6" transform="translate(0.36 0.00)" stroke="#d6d6d6" stroke-width="1.0" stroke-linecap="butt" stroke-linejoin="round" fill="none"/>
<path d="M1193.8 275.5 L1243.1 284.1" stroke="#505050" stroke-width="6.5" stroke-linecap="butt" stroke-linejoin="round" fill="none"/><path d="M1193.8 275.5 L1243.1 284.1" transform="translate(0.04 -0.26)" stroke="#848484" stroke-width="4.5" stroke-linecap="butt" stroke-linejoin="round" fill="none"/><path d="M1193.8 275.5 L1243.1 284.1" transform="translate(0.17 -0.96)" stroke="#b8b8b8" stroke-width="1.8" stroke-linecap="butt" stroke-linejoin="round" fill="none"/>
<path d="M697.4 210.4 L786.7 224.4" stroke="#505050" stroke-width="5.3" stroke-linecap="butt" stroke-linejoin="round" fill="none"/><path d="M697.4 210.4 L786.7 224.4" transform="translate(0.03 -0.21)" stroke="#848484" stroke-width="3.7" stroke-linecap="butt" stroke-linejoin="round" fill="none"/><path d="M697.4 210.4 L786.7 224.4" transform="translate(0.12 -0.78)" stroke="#b8b8b8" stroke-width="1.5" stroke-linecap="butt" stroke-linejoin="round" fill="none"/>
<path d="M1180.3 269.3 L922.2 178.3" stroke="#5c5c5c" stroke-width="8.3" stroke-linecap="butt" stroke-linejoin="round" fill="none"/><path d="M1180.3 269.3 L922.2 178.3" transform="translate(0.11 -0.31)" stroke="#a2a2a2" stroke-width="5.8" stroke-linecap="butt" stroke-linejoin="round" fill="none"/><path d="M1180.3 269.3 L922.2 178.3" transform="translate(0.42 -1.18)" stroke="#d6d6d6" stroke-width="2.3" stroke-linecap="butt" stroke-linejoin="round" fill="none"/>
<path d="M1051.2 223.8 L1000.5 205.9" stroke="#383838" stroke-width="8.5" stroke-linecap="butt" stroke-linejoin="round" fill="none"/><path d="M1051.2 223.8 L1000.5 205.9" transform="translate(0.11 -0.32)" stroke="#5c5c5c" stroke-width="6.0" stroke-linecap="butt" stroke-linejoin="round" fill="none"/><path d="M1051.2 223.8 L1000.5 205.9" transform="translate(0.43 -1.21)" stroke="#868686" stroke-width="2.4" stroke-linecap="butt" stroke-linejoin="round" fill="none"/>
<ellipse cx="551.7" cy="513.2" rx="14.6" ry="1.5" fill="#585858"/>
<path d="M1192.2 286.3 L1192.2 279.9 Q1192.1 273.4 1186.1 271.3 L1168.6 265.1" stroke="#565656" stroke-width="8.5" stroke-linecap="butt" stroke-linejoin="round" fill="none"/><path d="M1192.2 286.3 L1192.2 279.9 Q1192.1 273.4 1186.1 271.3 L1168.6 265.1" transform="translate(-0.26 -0.34)" stroke="#8c8c8c" stroke-width="6.0" stroke-linecap="butt" stroke-linejoin="round" fill="none"/><path d="M1192.2 286.3 L1192.2 279.9 Q1192.1 273.4 1186.1 271.3 L1168.6 265.1" transform="translate(-0.68 -1.11)" stroke="#bcbcbc" stroke-width="2.4" stroke-linecap="butt" stroke-linejoin="round" fill="none"/>
<path d="M1167.1 264.6 L1159.8 262.0" stroke="#5c5c5c" stroke-width="8.6" stroke-linecap="butt" stroke-linejoin="round" fill="none"/><path d="M1167.1 264.6 L1159.8 262.0" transform="translate(0.11 -0.33)" stroke="#868686" stroke-width="6.0" stroke-linecap="butt" stroke-linejoin="round" fill="none"/><path d="M1167.1 264.6 L1159.8 262.0" transform="translate(0.43 -1.22)" stroke="#adadad" stroke-width="2.4" stroke-linecap="butt" stroke-linejoin="round" fill="none"/>
<ellipse cx="1195.4" cy="514.7" rx="14.7" ry="1.5" fill="#585858"/>
<path d="M549.4 502.2 L549.2 282.7" stroke="#787878" stroke-width="9.4" stroke-linecap="butt" stroke-linejoin="round" fill="none"/><path d="M549.4 502.2 L549.2 282.7" transform="translate(0.19 0.00)" stroke="#adadad" stroke-width="6.6" stroke-linecap="butt" stroke-linejoin="round" fill="none"/><path d="M549.4 502.2 L549.2 282.7" transform="translate(0.94 0.00)" stroke="#dedede" stroke-width="2.6" stroke-linecap="butt" stroke-linejoin="round" fill="none"/>
<path d="M549.2 300.2 L549.2 282.7" stroke="#5c5c5c" stroke-width="9.6" stroke-linecap="butt" stroke-linejoin="round" fill="none"/><path d="M549.2 300.2 L549.2 282.7" transform="translate(0.19 0.00)" stroke="#868686" stroke-width="6.7" stroke-linecap="butt" stroke-linejoin="round" fill="none"/><path d="M549.2 300.2 L549.2 282.7" transform="translate(0.96 0.00)" stroke="#adadad" stroke-width="2.7" stroke-linecap="butt" stroke-linejoin="round" fill="none"/>
<path d="M549.4 512.8 L549.4 501.1" stroke="#5c5c5c" stroke-width="9.8" stroke-linecap="butt" stroke-linejoin="round" fill="none"/><path d="M549.4 512.8 L549.4 501.1" transform="translate(0.20 0.00)" stroke="#868686" stroke-width="6.8" stroke-linecap="butt" stroke-linejoin="round" fill="none"/><path d="M549.4 512.8 L549.4 501.1" transform="translate(0.98 0.00)" stroke="#adadad" stroke-width="2.7" stroke-linecap="butt" stroke-linejoin="round" fill="none"/>
<path d="M829.1 156.8 L905.6 174.0" stroke="#666666" stroke-width="7.8" stroke-linecap="butt" stroke-linejoin="round" fill="none"/><path d="M829.1 156.8 L905.6 174.0" transform="translate(0.07 -0.30)" stroke="#a0a0a0" stroke-width="5.5" stroke-linecap="butt" stroke-linejoin="round" fill="none"/><path d="M829.1 156.8 L905.6 174.0" transform="translate(0.26 -1.14)" stroke="#d0d0d0" stroke-width="2.2" stroke-linecap="butt" stroke-linejoin="round" fill="none"/>
<path d="M829.1 156.8 L844.6 160.3" stroke="#383838" stroke-width="8.3" stroke-linecap="butt" stroke-linejoin="round" fill="none"/><path d="M829.1 156.8 L844.6 160.3" transform="translate(0.07 -0.32)" stroke="#5c5c5c" stroke-width="5.8" stroke-linecap="butt" stroke-linejoin="round" fill="none"/><path d="M829.1 156.8 L844.6 160.3" transform="translate(0.27 -1.21)" stroke="#868686" stroke-width="2.3" stroke-linecap="butt" stroke-linejoin="round" fill="none"/>
<path d="M898.7 172.4 L907.1 174.3" stroke="#383838" stroke-width="7.8" stroke-linecap="butt" stroke-linejoin="round" fill="none"/><path d="M898.7 172.4 L907.1 174.3" transform="translate(0.07 -0.30)" stroke="#5c5c5c" stroke-width="5.5" stroke-linecap="butt" stroke-linejoin="round" fill="none"/><path d="M898.7 172.4 L907.1 174.3" transform="translate(0.26 -1.14)" stroke="#868686" stroke-width="2.2" stroke-linecap="butt" stroke-linejoin="round" fill="none"/>
<path d="M549.4 508.3 L600.3 504.4" stroke="#505050" stroke-width="6.4" stroke-linecap="butt" stroke-linejoin="round" fill="none"/><path d="M549.4 508.3 L600.3 504.4" transform="translate(-0.02 -0.25)" stroke="#858585" stroke-width="4.5" stroke-linecap="butt" stroke-linejoin="round" fill="none"/><path d="M549.4 508.3 L600.3 504.4" transform="translate(-0.07 -0.95)" stroke="#b8b8b8" stroke-width="1.8" stroke-linecap="butt" stroke-linejoin="round" fill="none"/>
<path d="M549.2 276.3 L536.4 275.1" stroke="#383838" stroke-width="6.0" stroke-linecap="round" stroke-linejoin="round" fill="none"/><path d="M549.2 276.3 L536.4 275.1" transform="translate(0.02 -0.24)" stroke="#5c5c5c" stroke-width="4.2" stroke-linecap="round" stroke-linejoin="round" fill="none"/><path d="M549.2 276.3 L536.4 275.1" transform="translate(0.08 -0.90)" stroke="#868686" stroke-width="1.7" stroke-linecap="round" stroke-linejoin="round" fill="none"/>
<path d="M549.4 508.3 L536.6 509.3" stroke="#5c5c5c" stroke-width="6.6" stroke-linecap="round" stroke-linejoin="round" fill="none"/><path d="M549.4 508.3 L536.6 509.3" transform="translate(-0.02 -0.27)" stroke="#868686" stroke-width="4.7" stroke-linecap="round" stroke-linejoin="round" fill="none"/><path d="M549.4 508.3 L536.6 509.3" transform="translate(-0.08 -0.99)" stroke="#adadad" stroke-width="1.9" stroke-linecap="round" stroke-linejoin="round" fill="none"/>
<path d="M1193.1 503.6 L1192.2 282.8" stroke="#787878" stroke-width="9.4" stroke-linecap="butt" stroke-linejoin="round" fill="none"/><path d="M1193.1 503.6 L1192.2 282.8" transform="translate(0.19 0.00)" stroke="#adadad" stroke-width="6.6" stroke-linecap="butt" stroke-linejoin="round" fill="none"/><path d="M1193.1 503.6 L1192.2 282.8" transform="translate(0.94 0.00)" stroke="#dedede" stroke-width="2.6" stroke-linecap="butt" stroke-linejoin="round" fill="none"/>
<path d="M1192.3 300.4 L1192.2 282.8" stroke="#5c5c5c" stroke-width="9.6" stroke-linecap="butt" stroke-linejoin="round" fill="none"/><path d="M1192.3 300.4 L1192.2 282.8" transform="translate(0.19 0.00)" stroke="#868686" stroke-width="6.7" stroke-linecap="butt" stroke-linejoin="round" fill="none"/><path d="M1192.3 300.4 L1192.2 282.8" transform="translate(0.96 0.00)" stroke="#adadad" stroke-width="2.7" stroke-linecap="butt" stroke-linejoin="round" fill="none"/>
<path d="M1193.1 514.2 L1193.0 502.4" stroke="#5c5c5c" stroke-width="9.8" stroke-linecap="butt" stroke-linejoin="round" fill="none"/><path d="M1193.1 514.2 L1193.0 502.4" transform="translate(0.20 0.00)" stroke="#868686" stroke-width="6.9" stroke-linecap="butt" stroke-linejoin="round" fill="none"/><path d="M1193.1 514.2 L1193.0 502.4" transform="translate(0.98 0.00)" stroke="#adadad" stroke-width="2.7" stroke-linecap="butt" stroke-linejoin="round" fill="none"/>
<path d="M1163.7 514.1 L1193.1 509.7" stroke="#505050" stroke-width="6.9" stroke-linecap="butt" stroke-linejoin="round" fill="none"/><path d="M1163.7 514.1 L1193.1 509.7" transform="translate(-0.04 -0.27)" stroke="#858585" stroke-width="4.8" stroke-linecap="butt" stroke-linejoin="round" fill="none"/><path d="M1163.7 514.1 L1193.1 509.7" transform="translate(-0.15 -1.03)" stroke="#b8b8b8" stroke-width="1.9" stroke-linecap="butt" stroke-linejoin="round" fill="none"/>
<path d="M1193.1 509.7 L1220.3 505.7" stroke="#505050" stroke-width="6.4" stroke-linecap="butt" stroke-linejoin="round" fill="none"/><path d="M1193.1 509.7 L1220.3 505.7" transform="translate(-0.04 -0.25)" stroke="#858585" stroke-width="4.5" stroke-linecap="butt" stroke-linejoin="round" fill="none"/><path d="M1193.1 509.7 L1220.3 505.7" transform="translate(-0.14 -0.95)" stroke="#b8b8b8" stroke-width="1.8" stroke-linecap="butt" stroke-linejoin="round" fill="none"/>
<circle cx="554.0" cy="275.6" r="3.7" fill="#707070" stroke="#444" stroke-width="0.9"/><circle cx="554.0" cy="275.6" r="1.2" fill="#3a3a3a"/>
<circle cx="1194.7" cy="275.6" r="3.7" fill="#707070" stroke="#444" stroke-width="0.9"/><circle cx="1194.7" cy="275.6" r="1.2" fill="#3a3a3a"/>
<path d="M952.5 199.5 L1025.8 214.8" stroke="#666666" stroke-width="5.5" stroke-linecap="butt" stroke-linejoin="round" fill="none"/><path d="M952.5 199.5 L1025.8 214.8" transform="translate(0.04 -0.21)" stroke="#a0a0a0" stroke-width="3.8" stroke-linecap="butt" stroke-linejoin="round" fill="none"/><path d="M952.5 199.5 L1025.8 214.8" transform="translate(0.17 -0.81)" stroke="#d0d0d0" stroke-width="1.5" stroke-linecap="butt" stroke-linejoin="round" fill="none"/>
<path d="M559.9 268.8 L812.8 161.3" stroke="#4a4a4a" stroke-width="8.6" stroke-linecap="butt" stroke-linejoin="round" fill="none"/><path d="M559.9 268.8 L812.8 161.3" transform="translate(-0.13 -0.32)" stroke="#7c7c7c" stroke-width="6.0" stroke-linecap="butt" stroke-linejoin="round" fill="none"/><path d="M559.9 268.8 L812.8 161.3" transform="translate(-0.51 -1.19)" stroke="#b0b0b0" stroke-width="2.4" stroke-linecap="butt" stroke-linejoin="round" fill="none"/>
<path d="M672.4 221.0 L722.6 199.7" stroke="#383838" stroke-width="8.9" stroke-linecap="butt" stroke-linejoin="round" fill="none"/><path d="M672.4 221.0 L722.6 199.7" transform="translate(-0.14 -0.33)" stroke="#5c5c5c" stroke-width="6.2" stroke-linecap="butt" stroke-linejoin="round" fill="none"/><path d="M672.4 221.0 L722.6 199.7" transform="translate(-0.52 -1.23)" stroke="#868686" stroke-width="2.5" stroke-linecap="butt" stroke-linejoin="round" fill="none"/>
<path d="M549.2 286.2 L549.2 279.8 Q549.2 273.4 555.1 270.9 L570.6 264.3" stroke="#3a3a3a" stroke-width="8.5" stroke-linecap="butt" stroke-linejoin="round" fill="none"/><path d="M549.2 286.2 L549.2 279.8 Q549.2 273.4 555.1 270.9 L570.6 264.3" transform="translate(-0.25 -0.34)" stroke="#5e5e5e" stroke-width="5.9" stroke-linecap="butt" stroke-linejoin="round" fill="none"/><path d="M549.2 286.2 L549.2 279.8 Q549.2 273.4 555.1 270.9 L570.6 264.3" transform="translate(-0.68 -1.10)" stroke="#888888" stroke-width="2.4" stroke-linecap="butt" stroke-linejoin="round" fill="none"/>
<path d="M789.8 171.1 L814.0 160.8 Q827.3 155.2 840.9 160.0 L865.3 168.6" stroke="#3a3a3a" stroke-width="8.8" stroke-linecap="butt" stroke-linejoin="round" fill="none"/><path d="M789.8 171.1 L814.0 160.8 Q827.3 155.2 840.9 160.0 L865.3 168.6" transform="translate(-0.26 -0.35)" stroke="#5e5e5e" stroke-width="6.2" stroke-linecap="butt" stroke-linejoin="round" fill="none"/><path d="M789.8 171.1 L814.0 160.8 Q827.3 155.2 840.9 160.0 L865.3 168.6" transform="translate(-0.70 -1.15)" stroke="#888888" stroke-width="2.5" stroke-linecap="butt" stroke-linejoin="round" fill="none"/>
<circle cx="1189.6" cy="274.8" r="3.8" fill="#707070" stroke="#444" stroke-width="0.9"/><circle cx="1189.6" cy="274.8" r="1.2" fill="#3a3a3a"/>
<path d="M697.4 210.4 L685.8 208.6" stroke="#383838" stroke-width="5.5" stroke-linecap="butt" stroke-linejoin="round" fill="none"/><path d="M697.4 210.4 L685.8 208.6" transform="translate(0.03 -0.22)" stroke="#5c5c5c" stroke-width="3.9" stroke-linecap="butt" stroke-linejoin="round" fill="none"/><path d="M697.4 210.4 L685.8 208.6" transform="translate(0.13 -0.82)" stroke="#868686" stroke-width="1.5" stroke-linecap="butt" stroke-linejoin="round" fill="none"/>
<circle cx="685.8" cy="208.6" r="2.3" fill="#1a1a1a"/>
<path d="M697.4 214.0 L959.6 206.9" stroke="#767676" stroke-width="3.9" stroke-linecap="butt" stroke-linejoin="round" fill="none"/><path d="M697.4 214.0 L959.6 206.9" transform="translate(-0.00 -0.16)" stroke="#a8a8a8" stroke-width="2.7" stroke-linecap="butt" stroke-linejoin="round" fill="none"/><path d="M697.4 214.0 L959.6 206.9" transform="translate(-0.02 -0.59)" stroke="#d6d6d6" stroke-width="1.1" stroke-linecap="butt" stroke-linejoin="round" fill="none"/>
<path d="M803.2 170.0 L853.5 168.3" stroke="#767676" stroke-width="3.9" stroke-linecap="butt" stroke-linejoin="round" fill="none"/><path d="M803.2 170.0 L853.5 168.3" transform="translate(-0.01 -0.16)" stroke="#a8a8a8" stroke-width="2.7" stroke-linecap="butt" stroke-linejoin="round" fill="none"/><path d="M803.2 170.0 L853.5 168.3" transform="translate(-0.02 -0.59)" stroke="#d6d6d6" stroke-width="1.1" stroke-linecap="butt" stroke-linejoin="round" fill="none"/>
<path d="M829.8 170.9 L829.8 210.4" stroke="#767676" stroke-width="3.9" stroke-linecap="butt" stroke-linejoin="round" fill="none"/><path d="M829.8 170.9 L829.8 210.4" transform="translate(0.08 0.00)" stroke="#a8a8a8" stroke-width="2.7" stroke-linecap="butt" stroke-linejoin="round" fill="none"/><path d="M829.8 170.9 L829.8 210.4" transform="translate(0.39 0.00)" stroke="#d6d6d6" stroke-width="1.1" stroke-linecap="butt" stroke-linejoin="round" fill="none"/>
<path d="M1132.9 264.9 L1190.5 274.9" stroke="#505050" stroke-width="7.0" stroke-linecap="butt" stroke-linejoin="round" fill="none"/><path d="M1132.9 264.9 L1190.5 274.9" transform="translate(0.05 -0.28)" stroke="#848484" stroke-width="4.9" stroke-linecap="butt" stroke-linejoin="round" fill="none"/><path d="M1132.9 264.9 L1190.5 274.9" transform="translate(0.18 -1.04)" stroke="#b8b8b8" stroke-width="2.0" stroke-linecap="butt" stroke-linejoin="round" fill="none"/>
<path d="M827.3 155.2 L816.7 152.8" stroke="#383838" stroke-width="8.1" stroke-linecap="butt" stroke-linejoin="round" fill="none"/><path d="M827.3 155.2 L816.7 152.8" transform="translate(0.07 -0.32)" stroke="#5c5c5c" stroke-width="5.7" stroke-linecap="butt" stroke-linejoin="round" fill="none"/><path d="M827.3 155.2 L816.7 152.8" transform="translate(0.27 -1.19)" stroke="#868686" stroke-width="2.3" stroke-linecap="butt" stroke-linejoin="round" fill="none"/>
<circle cx="816.7" cy="152.8" r="3.4" fill="#1a1a1a"/>
<path d="M1118.2 258.2 L841.9 160.3" stroke="#5c5c5c" stroke-width="9.0" stroke-linecap="butt" stroke-linejoin="round" fill="none"/><path d="M1118.2 258.2 L841.9 160.3" transform="translate(0.12 -0.34)" stroke="#a2a2a2" stroke-width="6.3" stroke-linecap="butt" stroke-linejoin="round" fill="none"/><path d="M1118.2 258.2 L841.9 160.3" transform="translate(0.45 -1.27)" stroke="#d6d6d6" stroke-width="2.5" stroke-linecap="butt" stroke-linejoin="round" fill="none"/>
<path d="M979.8 209.2 L925.5 190.0" stroke="#383838" stroke-width="9.2" stroke-linecap="butt" stroke-linejoin="round" fill="none"/><path d="M979.8 209.2 L925.5 190.0" transform="translate(0.12 -0.35)" stroke="#5c5c5c" stroke-width="6.5" stroke-linecap="butt" stroke-linejoin="round" fill="none"/><path d="M979.8 209.2 L925.5 190.0" transform="translate(0.46 -1.31)" stroke="#868686" stroke-width="2.6" stroke-linecap="butt" stroke-linejoin="round" fill="none"/>
<ellipse cx="437.4" cy="522.5" rx="15.8" ry="1.6" fill="#585858"/>
<path d="M952.5 199.5 L942.9 197.5" stroke="#383838" stroke-width="5.7" stroke-linecap="butt" stroke-linejoin="round" fill="none"/><path d="M952.5 199.5 L942.9 197.5" transform="translate(0.05 -0.22)" stroke="#5c5c5c" stroke-width="4.0" stroke-linecap="butt" stroke-linejoin="round" fill="none"/><path d="M952.5 199.5 L942.9 197.5" transform="translate(0.18 -0.84)" stroke="#868686" stroke-width="1.6" stroke-linecap="butt" stroke-linejoin="round" fill="none"/>
<path d="M1131.0 276.6 L1130.9 269.6 Q1130.9 262.7 1124.3 260.3 L1105.6 253.7" stroke="#565656" stroke-width="9.2" stroke-linecap="butt" stroke-linejoin="round" fill="none"/><path d="M1131.0 276.6 L1130.9 269.6 Q1130.9 262.7 1124.3 260.3 L1105.6 253.7" transform="translate(-0.28 -0.37)" stroke="#8c8c8c" stroke-width="6.4" stroke-linecap="butt" stroke-linejoin="round" fill="none"/><path d="M1131.0 276.6 L1130.9 269.6 Q1130.9 262.7 1124.3 260.3 L1105.6 253.7" transform="translate(-0.74 -1.20)" stroke="#bcbcbc" stroke-width="2.6" stroke-linecap="butt" stroke-linejoin="round" fill="none"/>
<path d="M1104.0 253.1 L1096.2 250.4" stroke="#5c5c5c" stroke-width="9.4" stroke-linecap="butt" stroke-linejoin="round" fill="none"/><path d="M1104.0 253.1 L1096.2 250.4" transform="translate(0.12 -0.35)" stroke="#868686" stroke-width="6.5" stroke-linecap="butt" stroke-linejoin="round" fill="none"/><path d="M1104.0 253.1 L1096.2 250.4" transform="translate(0.47 -1.32)" stroke="#adadad" stroke-width="2.6" stroke-linecap="butt" stroke-linejoin="round" fill="none"/>
<ellipse cx="1134.4" cy="524.1" rx="15.9" ry="1.6" fill="#585858"/>
<path d="M434.9 265.8 L448.1 267.0" stroke="#383838" stroke-width="6.5" stroke-linecap="round" stroke-linejoin="round" fill="none"/><path d="M434.9 265.8 L448.1 267.0" transform="translate(0.02 -0.26)" stroke="#5c5c5c" stroke-width="4.5" stroke-linecap="round" stroke-linejoin="round" fill="none"/><path d="M434.9 265.8 L448.1 267.0" transform="translate(0.09 -0.97)" stroke="#868686" stroke-width="1.8" stroke-linecap="round" stroke-linejoin="round" fill="none"/>
<path d="M434.9 517.2 L448.2 516.1" stroke="#5c5c5c" stroke-width="7.1" stroke-linecap="round" stroke-linejoin="round" fill="none"/><path d="M434.9 517.2 L448.2 516.1" transform="translate(-0.02 -0.28)" stroke="#868686" stroke-width="5.0" stroke-linecap="round" stroke-linejoin="round" fill="none"/><path d="M434.9 517.2 L448.2 516.1" transform="translate(-0.08 -1.07)" stroke="#adadad" stroke-width="2.0" stroke-linecap="round" stroke-linejoin="round" fill="none"/>
<circle cx="942.9" cy="197.5" r="2.4" fill="#1a1a1a"/>
<path d="M434.9 510.6 L434.9 272.8" stroke="#787878" stroke-width="10.2" stroke-linecap="butt" stroke-linejoin="round" fill="none"/><path d="M434.9 510.6 L434.9 272.8" transform="translate(0.20 0.00)" stroke="#adadad" stroke-width="7.1" stroke-linecap="butt" stroke-linejoin="round" fill="none"/><path d="M434.9 510.6 L434.9 272.8" transform="translate(1.02 0.00)" stroke="#dedede" stroke-width="2.8" stroke-linecap="butt" stroke-linejoin="round" fill="none"/>
<path d="M434.9 291.7 L434.9 272.8" stroke="#5c5c5c" stroke-width="10.4" stroke-linecap="butt" stroke-linejoin="round" fill="none"/><path d="M434.9 291.7 L434.9 272.8" transform="translate(0.21 0.00)" stroke="#868686" stroke-width="7.3" stroke-linecap="butt" stroke-linejoin="round" fill="none"/><path d="M434.9 291.7 L434.9 272.8" transform="translate(1.04 0.00)" stroke="#adadad" stroke-width="2.9" stroke-linecap="butt" stroke-linejoin="round" fill="none"/>
<path d="M434.9 522.0 L434.9 509.3" stroke="#5c5c5c" stroke-width="10.6" stroke-linecap="butt" stroke-linejoin="round" fill="none"/><path d="M434.9 522.0 L434.9 509.3" transform="translate(0.21 0.00)" stroke="#868686" stroke-width="7.4" stroke-linecap="butt" stroke-linejoin="round" fill="none"/><path d="M434.9 522.0 L434.9 509.3" transform="translate(1.06 0.00)" stroke="#adadad" stroke-width="3.0" stroke-linecap="butt" stroke-linejoin="round" fill="none"/>
<path d="M370.2 522.2 L434.9 517.2" stroke="#505050" stroke-width="7.5" stroke-linecap="butt" stroke-linejoin="round" fill="none"/><path d="M370.2 522.2 L434.9 517.2" transform="translate(-0.02 -0.30)" stroke="#858585" stroke-width="5.2" stroke-linecap="butt" stroke-linejoin="round" fill="none"/><path d="M370.2 522.2 L434.9 517.2" transform="translate(-0.09 -1.12)" stroke="#b8b8b8" stroke-width="2.1" stroke-linecap="butt" stroke-linejoin="round" fill="none"/>
<path d="M1131.8 512.1 L1131.0 272.8" stroke="#787878" stroke-width="10.2" stroke-linecap="butt" stroke-linejoin="round" fill="none"/><path d="M1131.8 512.1 L1131.0 272.8" transform="translate(0.20 0.00)" stroke="#adadad" stroke-width="7.2" stroke-linecap="butt" stroke-linejoin="round" fill="none"/><path d="M1131.8 512.1 L1131.0 272.8" transform="translate(1.02 0.00)" stroke="#dedede" stroke-width="2.9" stroke-linecap="butt" stroke-linejoin="round" fill="none"/>
<path d="M1131.0 291.9 L1131.0 272.8" stroke="#5c5c5c" stroke-width="10.4" stroke-linecap="butt" stroke-linejoin="round" fill="none"/><path d="M1131.0 291.9 L1131.0 272.8" transform="translate(0.21 0.00)" stroke="#868686" stroke-width="7.3" stroke-linecap="butt" stroke-linejoin="round" fill="none"/><path d="M1131.0 291.9 L1131.0 272.8" transform="translate(1.04 0.00)" stroke="#adadad" stroke-width="2.9" stroke-linecap="butt" stroke-linejoin="round" fill="none"/>
<path d="M1131.9 523.6 L1131.8 510.9" stroke="#5c5c5c" stroke-width="10.6" stroke-linecap="butt" stroke-linejoin="round" fill="none"/><path d="M1131.9 523.6 L1131.8 510.9" transform="translate(0.21 0.00)" stroke="#868686" stroke-width="7.4" stroke-linecap="butt" stroke-linejoin="round" fill="none"/><path d="M1131.9 523.6 L1131.8 510.9" transform="translate(1.06 0.00)" stroke="#adadad" stroke-width="3.0" stroke-linecap="butt" stroke-linejoin="round" fill="none"/>
<path d="M1131.8 518.8 L1163.7 514.1" stroke="#505050" stroke-width="6.9" stroke-linecap="butt" stroke-linejoin="round" fill="none"/><path d="M1131.8 518.8 L1163.7 514.1" transform="translate(-0.04 -0.27)" stroke="#858585" stroke-width="4.8" stroke-linecap="butt" stroke-linejoin="round" fill="none"/><path d="M1131.8 518.8 L1163.7 514.1" transform="translate(-0.15 -1.03)" stroke="#b8b8b8" stroke-width="1.9" stroke-linecap="butt" stroke-linejoin="round" fill="none"/>
<path d="M1130.9 265.8 L1122.9 264.5" stroke="#383838" stroke-width="6.6" stroke-linecap="round" stroke-linejoin="round" fill="none"/><path d="M1130.9 265.8 L1122.9 264.5" transform="translate(0.04 -0.26)" stroke="#5c5c5c" stroke-width="4.6" stroke-linecap="round" stroke-linejoin="round" fill="none"/><path d="M1130.9 265.8 L1122.9 264.5" transform="translate(0.17 -0.97)" stroke="#868686" stroke-width="1.8" stroke-linecap="round" stroke-linejoin="round" fill="none"/>
<path d="M1131.8 518.8 L1123.8 519.9" stroke="#5c5c5c" stroke-width="7.2" stroke-linecap="round" stroke-linejoin="round" fill="none"/><path d="M1131.8 518.8 L1123.8 519.9" transform="translate(-0.04 -0.29)" stroke="#868686" stroke-width="5.1" stroke-linecap="round" stroke-linejoin="round" fill="none"/><path d="M1131.8 518.8 L1123.8 519.9" transform="translate(-0.16 -1.08)" stroke="#adadad" stroke-width="2.0" stroke-linecap="round" stroke-linejoin="round" fill="none"/>
<circle cx="1133.9" cy="265.1" r="4.0" fill="#707070" stroke="#444" stroke-width="1.0"/><circle cx="1133.9" cy="265.1" r="1.3" fill="#3a3a3a"/>
<circle cx="429.3" cy="264.0" r="4.0" fill="#707070" stroke="#444" stroke-width="1.0"/><circle cx="429.3" cy="264.0" r="1.3" fill="#3a3a3a"/>
<path d="M446.2 257.7 L716.4 140.4" stroke="#4a4a4a" stroke-width="9.4" stroke-linecap="butt" stroke-linejoin="round" fill="none"/><path d="M446.2 257.7 L716.4 140.4" transform="translate(-0.15 -0.34)" stroke="#7c7c7c" stroke-width="6.6" stroke-linecap="butt" stroke-linejoin="round" fill="none"/><path d="M446.2 257.7 L716.4 140.4" transform="translate(-0.56 -1.29)" stroke="#b0b0b0" stroke-width="2.6" stroke-linecap="butt" stroke-linejoin="round" fill="none"/>
<path d="M566.2 205.6 L619.8 182.3" stroke="#383838" stroke-width="9.7" stroke-linecap="butt" stroke-linejoin="round" fill="none"/><path d="M566.2 205.6 L619.8 182.3" transform="translate(-0.15 -0.35)" stroke="#5c5c5c" stroke-width="6.8" stroke-linecap="butt" stroke-linejoin="round" fill="none"/><path d="M566.2 205.6 L619.8 182.3" transform="translate(-0.58 -1.33)" stroke="#868686" stroke-width="2.7" stroke-linecap="butt" stroke-linejoin="round" fill="none"/>
<path d="M434.9 276.6 L434.9 269.6 Q434.9 262.7 441.2 259.9 L457.6 252.8" stroke="#3a3a3a" stroke-width="9.2" stroke-linecap="butt" stroke-linejoin="round" fill="none"/><path d="M434.9 276.6 L434.9 269.6 Q434.9 262.7 441.2 259.9 L457.6 252.8" transform="translate(-0.27 -0.37)" stroke="#5e5e5e" stroke-width="6.4" stroke-linecap="butt" stroke-linejoin="round" fill="none"/><path d="M434.9 276.6 L434.9 269.6 Q434.9 262.7 441.2 259.9 L457.6 252.8" transform="translate(-0.73 -1.19)" stroke="#888888" stroke-width="2.6" stroke-linecap="butt" stroke-linejoin="round" fill="none"/>
<path d="M691.7 151.1 L717.5 139.9 Q731.9 133.7 746.6 138.9 L772.6 148.2" stroke="#3a3a3a" stroke-width="9.6" stroke-linecap="butt" stroke-linejoin="round" fill="none"/><path d="M691.7 151.1 L717.5 139.9 Q731.9 133.7 746.6 138.9 L772.6 148.2" transform="translate(-0.29 -0.38)" stroke="#5e5e5e" stroke-width="6.7" stroke-linecap="butt" stroke-linejoin="round" fill="none"/><path d="M691.7 151.1 L717.5 139.9 Q731.9 133.7 746.6 138.9 L772.6 148.2" transform="translate(-0.77 -1.25)" stroke="#888888" stroke-width="2.7" stroke-linecap="butt" stroke-linejoin="round" fill="none"/>
<path d="M304.1 253.8 L431.1 265.5" stroke="#505050" stroke-width="6.8" stroke-linecap="butt" stroke-linejoin="round" fill="none"/><path d="M304.1 253.8 L431.1 265.5" transform="translate(0.02 -0.27)" stroke="#848484" stroke-width="4.7" stroke-linecap="butt" stroke-linejoin="round" fill="none"/><path d="M304.1 253.8 L431.1 265.5" transform="translate(0.09 -1.01)" stroke="#b8b8b8" stroke-width="1.9" stroke-linecap="butt" stroke-linejoin="round" fill="none"/>
<path d="M592.9 197.9 L873.9 189.5" stroke="#767676" stroke-width="4.3" stroke-linecap="butt" stroke-linejoin="round" fill="none"/><path d="M592.9 197.9 L873.9 189.5" transform="translate(-0.01 -0.17)" stroke="#a8a8a8" stroke-width="3.0" stroke-linecap="butt" stroke-linejoin="round" fill="none"/><path d="M592.9 197.9 L873.9 189.5" transform="translate(-0.02 -0.64)" stroke="#d6d6d6" stroke-width="1.2" stroke-linecap="butt" stroke-linejoin="round" fill="none"/>
<path d="M706.1 149.8 L760.0 147.8" stroke="#767676" stroke-width="4.3" stroke-linecap="butt" stroke-linejoin="round" fill="none"/><path d="M706.1 149.8 L760.0 147.8" transform="translate(-0.01 -0.17)" stroke="#a8a8a8" stroke-width="3.0" stroke-linecap="butt" stroke-linejoin="round" fill="none"/><path d="M706.1 149.8 L760.0 147.8" transform="translate(-0.02 -0.64)" stroke="#d6d6d6" stroke-width="1.2" stroke-linecap="butt" stroke-linejoin="round" fill="none"/>
<path d="M734.5 150.8 L734.6 193.7" stroke="#767676" stroke-width="4.3" stroke-linecap="butt" stroke-linejoin="round" fill="none"/><path d="M734.5 150.8 L734.6 193.7" transform="translate(0.09 0.00)" stroke="#a8a8a8" stroke-width="3.0" stroke-linecap="butt" stroke-linejoin="round" fill="none"/><path d="M734.5 150.8 L734.6 193.7" transform="translate(0.43 0.00)" stroke="#d6d6d6" stroke-width="1.2" stroke-linecap="butt" stroke-linejoin="round" fill="none"/>
<path d="M468.9 174.6 L592.9 194.0" stroke="#505050" stroke-width="6.2" stroke-linecap="butt" stroke-linejoin="round" fill="none"/><path d="M468.9 174.6 L592.9 194.0" transform="translate(0.04 -0.25)" stroke="#848484" stroke-width="4.4" stroke-linecap="butt" stroke-linejoin="round" fill="none"/><path d="M468.9 174.6 L592.9 194.0" transform="translate(0.14 -0.92)" stroke="#b8b8b8" stroke-width="1.7" stroke-linecap="butt" stroke-linejoin="round" fill="none"/>
<path d="M1044.8 245.0 L747.5 139.2" stroke="#5c5c5c" stroke-width="9.8" stroke-linecap="butt" stroke-linejoin="round" fill="none"/><path d="M1044.8 245.0 L747.5 139.2" transform="translate(0.13 -0.37)" stroke="#a2a2a2" stroke-width="6.9" stroke-linecap="butt" stroke-linejoin="round" fill="none"/><path d="M1044.8 245.0 L747.5 139.2" transform="translate(0.49 -1.39)" stroke="#d6d6d6" stroke-width="2.7" stroke-linecap="butt" stroke-linejoin="round" fill="none"/>
<path d="M895.6 191.9 L837.3 171.2" stroke="#383838" stroke-width="10.1" stroke-linecap="butt" stroke-linejoin="round" fill="none"/><path d="M895.6 191.9 L837.3 171.2" transform="translate(0.13 -0.38)" stroke="#5c5c5c" stroke-width="7.0" stroke-linecap="butt" stroke-linejoin="round" fill="none"/><path d="M895.6 191.9 L837.3 171.2" transform="translate(0.51 -1.42)" stroke="#868686" stroke-width="2.8" stroke-linecap="butt" stroke-linejoin="round" fill="none"/>
<ellipse cx="302.3" cy="533.4" rx="17.3" ry="1.7" fill="#585858"/>
<path d="M1058.5 265.2 L1058.5 257.5 Q1058.5 249.9 1051.3 247.3 L1031.2 240.2" stroke="#565656" stroke-width="10.1" stroke-linecap="butt" stroke-linejoin="round" fill="none"/><path d="M1058.5 265.2 L1058.5 257.5 Q1058.5 249.9 1051.3 247.3 L1031.2 240.2" transform="translate(-0.30 -0.40)" stroke="#8c8c8c" stroke-width="7.0" stroke-linecap="butt" stroke-linejoin="round" fill="none"/><path d="M1058.5 265.2 L1058.5 257.5 Q1058.5 249.9 1051.3 247.3 L1031.2 240.2" transform="translate(-0.80 -1.31)" stroke="#bcbcbc" stroke-width="2.8" stroke-linecap="butt" stroke-linejoin="round" fill="none"/>
<path d="M1029.5 239.6 L1021.0 236.6" stroke="#5c5c5c" stroke-width="10.2" stroke-linecap="butt" stroke-linejoin="round" fill="none"/><path d="M1029.5 239.6 L1021.0 236.6" transform="translate(0.14 -0.38)" stroke="#868686" stroke-width="7.1" stroke-linecap="butt" stroke-linejoin="round" fill="none"/><path d="M1029.5 239.6 L1021.0 236.6" transform="translate(0.51 -1.44)" stroke="#adadad" stroke-width="2.9" stroke-linecap="butt" stroke-linejoin="round" fill="none"/>
<ellipse cx="1062.2" cy="535.3" rx="17.4" ry="1.7" fill="#585858"/>
<path d="M299.6 520.4 L299.7 261.0" stroke="#787878" stroke-width="11.1" stroke-linecap="butt" stroke-linejoin="round" fill="none"/><path d="M299.6 520.4 L299.7 261.0" transform="translate(0.22 0.00)" stroke="#adadad" stroke-width="7.8" stroke-linecap="butt" stroke-linejoin="round" fill="none"/><path d="M299.6 520.4 L299.7 261.0" transform="translate(1.11 0.00)" stroke="#dedede" stroke-width="3.1" stroke-linecap="butt" stroke-linejoin="round" fill="none"/>
<path d="M299.7 281.7 L299.7 261.0" stroke="#5c5c5c" stroke-width="11.3" stroke-linecap="butt" stroke-linejoin="round" fill="none"/><path d="M299.7 281.7 L299.7 261.0" transform="translate(0.23 0.00)" stroke="#868686" stroke-width="7.9" stroke-linecap="butt" stroke-linejoin="round" fill="none"/><path d="M299.7 281.7 L299.7 261.0" transform="translate(1.13 0.00)" stroke="#adadad" stroke-width="3.2" stroke-linecap="butt" stroke-linejoin="round" fill="none"/>
<path d="M1058.5 253.4 L1067.0 254.8" stroke="#383838" stroke-width="7.1" stroke-linecap="round" stroke-linejoin="round" fill="none"/><path d="M1058.5 253.4 L1067.0 254.8" transform="translate(0.05 -0.28)" stroke="#5c5c5c" stroke-width="5.0" stroke-linecap="round" stroke-linejoin="round" fill="none"/><path d="M1058.5 253.4 L1067.0 254.8" transform="translate(0.18 -1.05)" stroke="#868686" stroke-width="2.0" stroke-linecap="round" stroke-linejoin="round" fill="none"/>
<path d="M299.5 532.9 L299.6 519.0" stroke="#5c5c5c" stroke-width="11.5" stroke-linecap="butt" stroke-linejoin="round" fill="none"/><path d="M299.5 532.9 L299.6 519.0" transform="translate(0.23 0.00)" stroke="#868686" stroke-width="8.1" stroke-linecap="butt" stroke-linejoin="round" fill="none"/><path d="M299.5 532.9 L299.6 519.0" transform="translate(1.15 0.00)" stroke="#adadad" stroke-width="3.2" stroke-linecap="butt" stroke-linejoin="round" fill="none"/>
<path d="M620.7 110.1 L727.7 134.1" stroke="#666666" stroke-width="9.2" stroke-linecap="butt" stroke-linejoin="round" fill="none"/><path d="M620.7 110.1 L727.7 134.1" transform="translate(0.08 -0.36)" stroke="#a0a0a0" stroke-width="6.5" stroke-linecap="butt" stroke-linejoin="round" fill="none"/><path d="M620.7 110.1 L727.7 134.1" transform="translate(0.30 -1.35)" stroke="#d0d0d0" stroke-width="2.6" stroke-linecap="butt" stroke-linejoin="round" fill="none"/>
<path d="M1059.4 529.4 L1067.9 528.2" stroke="#5c5c5c" stroke-width="7.8" stroke-linecap="round" stroke-linejoin="round" fill="none"/><path d="M1059.4 529.4 L1067.9 528.2" transform="translate(-0.05 -0.31)" stroke="#868686" stroke-width="5.5" stroke-linecap="round" stroke-linejoin="round" fill="none"/><path d="M1059.4 529.4 L1067.9 528.2" transform="translate(-0.17 -1.16)" stroke="#adadad" stroke-width="2.2" stroke-linecap="round" stroke-linejoin="round" fill="none"/>
<path d="M620.7 110.1 L642.7 115.0" stroke="#383838" stroke-width="9.9" stroke-linecap="butt" stroke-linejoin="round" fill="none"/><path d="M620.7 110.1 L642.7 115.0" transform="translate(0.09 -0.38)" stroke="#5c5c5c" stroke-width="6.9" stroke-linecap="butt" stroke-linejoin="round" fill="none"/><path d="M620.7 110.1 L642.7 115.0" transform="translate(0.32 -1.44)" stroke="#868686" stroke-width="2.8" stroke-linecap="butt" stroke-linejoin="round" fill="none"/>
<path d="M718.2 131.9 L729.8 134.5" stroke="#383838" stroke-width="9.2" stroke-linecap="butt" stroke-linejoin="round" fill="none"/><path d="M718.2 131.9 L729.8 134.5" transform="translate(0.08 -0.36)" stroke="#5c5c5c" stroke-width="6.4" stroke-linecap="butt" stroke-linejoin="round" fill="none"/><path d="M718.2 131.9 L729.8 134.5" transform="translate(0.30 -1.34)" stroke="#868686" stroke-width="2.6" stroke-linecap="butt" stroke-linejoin="round" fill="none"/>
<path d="M222.2 533.6 L299.6 527.6" stroke="#505050" stroke-width="8.2" stroke-linecap="butt" stroke-linejoin="round" fill="none"/><path d="M222.2 533.6 L299.6 527.6" transform="translate(-0.03 -0.33)" stroke="#858585" stroke-width="5.7" stroke-linecap="butt" stroke-linejoin="round" fill="none"/><path d="M222.2 533.6 L299.6 527.6" transform="translate(-0.09 -1.22)" stroke="#b8b8b8" stroke-width="2.3" stroke-linecap="butt" stroke-linejoin="round" fill="none"/>
<path d="M299.6 527.6 L370.2 522.2" stroke="#505050" stroke-width="7.5" stroke-linecap="butt" stroke-linejoin="round" fill="none"/><path d="M299.6 527.6 L370.2 522.2" transform="translate(-0.02 -0.30)" stroke="#858585" stroke-width="5.2" stroke-linecap="butt" stroke-linejoin="round" fill="none"/><path d="M299.6 527.6 L370.2 522.2" transform="translate(-0.09 -1.12)" stroke="#b8b8b8" stroke-width="2.1" stroke-linecap="butt" stroke-linejoin="round" fill="none"/>
<path d="M1059.4 522.2 L1058.5 261.0" stroke="#787878" stroke-width="11.2" stroke-linecap="butt" stroke-linejoin="round" fill="none"/><path d="M1059.4 522.2 L1058.5 261.0" transform="translate(0.22 0.00)" stroke="#adadad" stroke-width="7.8" stroke-linecap="butt" stroke-linejoin="round" fill="none"/><path d="M1059.4 522.2 L1058.5 261.0" transform="translate(1.12 0.00)" stroke="#dedede" stroke-width="3.1" stroke-linecap="butt" stroke-linejoin="round" fill="none"/>
<path d="M1058.6 281.8 L1058.5 261.0" stroke="#5c5c5c" stroke-width="11.4" stroke-linecap="butt" stroke-linejoin="round" fill="none"/><path d="M1058.6 281.8 L1058.5 261.0" transform="translate(0.23 0.00)" stroke="#868686" stroke-width="8.0" stroke-linecap="butt" stroke-linejoin="round" fill="none"/><path d="M1058.6 281.8 L1058.5 261.0" transform="translate(1.14 0.00)" stroke="#adadad" stroke-width="3.2" stroke-linecap="butt" stroke-linejoin="round" fill="none"/>
<path d="M1059.4 534.7 L1059.4 520.8" stroke="#5c5c5c" stroke-width="11.6" stroke-linecap="butt" stroke-linejoin="round" fill="none"/><path d="M1059.4 534.7 L1059.4 520.8" transform="translate(0.23 0.00)" stroke="#868686" stroke-width="8.1" stroke-linecap="butt" stroke-linejoin="round" fill="none"/><path d="M1059.4 534.7 L1059.4 520.8" transform="translate(1.16 0.00)" stroke="#adadad" stroke-width="3.3" stroke-linecap="butt" stroke-linejoin="round" fill="none"/>
<path d="M1018.0 535.5 L1059.4 529.4" stroke="#505050" stroke-width="8.2" stroke-linecap="butt" stroke-linejoin="round" fill="none"/><path d="M1018.0 535.5 L1059.4 529.4" transform="translate(-0.05 -0.33)" stroke="#858585" stroke-width="5.8" stroke-linecap="butt" stroke-linejoin="round" fill="none"/><path d="M1018.0 535.5 L1059.4 529.4" transform="translate(-0.18 -1.22)" stroke="#b8b8b8" stroke-width="2.3" stroke-linecap="butt" stroke-linejoin="round" fill="none"/>
<circle cx="306.3" cy="252.7" r="4.4" fill="#707070" stroke="#444" stroke-width="1.1"/><circle cx="306.3" cy="252.7" r="1.4" fill="#3a3a3a"/>
<circle cx="293.1" cy="251.4" r="4.4" fill="#707070" stroke="#444" stroke-width="1.1"/><circle cx="293.1" cy="251.4" r="1.4" fill="#3a3a3a"/>
<path d="M763.2 160.0 L866.3 181.5" stroke="#666666" stroke-width="6.5" stroke-linecap="butt" stroke-linejoin="round" fill="none"/><path d="M763.2 160.0 L866.3 181.5" transform="translate(0.05 -0.25)" stroke="#a0a0a0" stroke-width="4.6" stroke-linecap="butt" stroke-linejoin="round" fill="none"/><path d="M763.2 160.0 L866.3 181.5" transform="translate(0.20 -0.96)" stroke="#d0d0d0" stroke-width="1.8" stroke-linecap="butt" stroke-linejoin="round" fill="none"/>
<path d="M311.9 244.6 L601.5 115.5" stroke="#4a4a4a" stroke-width="10.2" stroke-linecap="butt" stroke-linejoin="round" fill="none"/><path d="M311.9 244.6 L601.5 115.5" transform="translate(-0.17 -0.37)" stroke="#7c7c7c" stroke-width="7.2" stroke-linecap="butt" stroke-linejoin="round" fill="none"/><path d="M311.9 244.6 L601.5 115.5" transform="translate(-0.62 -1.40)" stroke="#b0b0b0" stroke-width="2.9" stroke-linecap="butt" stroke-linejoin="round" fill="none"/>
<path d="M440.2 187.4 L497.8 161.7" stroke="#383838" stroke-width="10.6" stroke-linecap="butt" stroke-linejoin="round" fill="none"/><path d="M440.2 187.4 L497.8 161.7" transform="translate(-0.17 -0.39)" stroke="#5c5c5c" stroke-width="7.4" stroke-linecap="butt" stroke-linejoin="round" fill="none"/><path d="M440.2 187.4 L497.8 161.7" transform="translate(-0.64 -1.45)" stroke="#868686" stroke-width="3.0" stroke-linecap="butt" stroke-linejoin="round" fill="none"/>
<path d="M299.7 265.2 L299.7 257.6 Q299.7 250.0 306.6 246.9 L324.1 239.1" stroke="#3a3a3a" stroke-width="10.0" stroke-linecap="butt" stroke-linejoin="round" fill="none"/><path d="M299.7 265.2 L299.7 257.6 Q299.7 250.0 306.6 246.9 L324.1 239.1" transform="translate(-0.30 -0.40)" stroke="#5e5e5e" stroke-width="7.0" stroke-linecap="butt" stroke-linejoin="round" fill="none"/><path d="M299.7 265.2 L299.7 257.6 Q299.7 250.0 306.6 246.9 L324.1 239.1" transform="translate(-0.80 -1.30)" stroke="#888888" stroke-width="2.8" stroke-linecap="butt" stroke-linejoin="round" fill="none"/>
<path d="M575.0 127.3 L602.6 115.1 Q618.2 108.1 634.4 113.9 L662.1 123.8" stroke="#3a3a3a" stroke-width="10.5" stroke-linecap="butt" stroke-linejoin="round" fill="none"/><path d="M575.0 127.3 L602.6 115.1 Q618.2 108.1 634.4 113.9 L662.1 123.8" transform="translate(-0.31 -0.42)" stroke="#5e5e5e" stroke-width="7.3" stroke-linecap="butt" stroke-linejoin="round" fill="none"/><path d="M575.0 127.3 L602.6 115.1 Q618.2 108.1 634.4 113.9 L662.1 123.8" transform="translate(-0.84 -1.36)" stroke="#888888" stroke-width="2.9" stroke-linecap="butt" stroke-linejoin="round" fill="none"/>
<circle cx="1054.9" cy="251.4" r="4.4" fill="#707070" stroke="#444" stroke-width="1.1"/><circle cx="1054.9" cy="251.4" r="1.4" fill="#3a3a3a"/>
<path d="M142.9 239.1 L295.3 253.0" stroke="#505050" stroke-width="7.4" stroke-linecap="butt" stroke-linejoin="round" fill="none"/><path d="M142.9 239.1 L295.3 253.0" transform="translate(0.03 -0.30)" stroke="#848484" stroke-width="5.2" stroke-linecap="butt" stroke-linejoin="round" fill="none"/><path d="M142.9 239.1 L295.3 253.0" transform="translate(0.10 -1.11)" stroke="#b8b8b8" stroke-width="2.1" stroke-linecap="butt" stroke-linejoin="round" fill="none"/>
<path d="M468.9 178.9 L771.4 168.7" stroke="#767676" stroke-width="4.7" stroke-linecap="butt" stroke-linejoin="round" fill="none"/><path d="M468.9 178.9 L771.4 168.7" transform="translate(-0.01 -0.19)" stroke="#a8a8a8" stroke-width="3.3" stroke-linecap="butt" stroke-linejoin="round" fill="none"/><path d="M468.9 178.9 L771.4 168.7" transform="translate(-0.02 -0.70)" stroke="#d6d6d6" stroke-width="1.3" stroke-linecap="butt" stroke-linejoin="round" fill="none"/>
<path d="M590.5 125.8 L648.5 123.5" stroke="#767676" stroke-width="4.7" stroke-linecap="butt" stroke-linejoin="round" fill="none"/><path d="M590.5 125.8 L648.5 123.5" transform="translate(-0.01 -0.19)" stroke="#a8a8a8" stroke-width="3.3" stroke-linecap="butt" stroke-linejoin="round" fill="none"/><path d="M590.5 125.8 L648.5 123.5" transform="translate(-0.03 -0.70)" stroke="#d6d6d6" stroke-width="1.3" stroke-linecap="butt" stroke-linejoin="round" fill="none"/>
<path d="M621.0 126.8 L621.1 173.8" stroke="#767676" stroke-width="4.7" stroke-linecap="butt" stroke-linejoin="round" fill="none"/><path d="M621.0 126.8 L621.1 173.8" transform="translate(0.09 0.00)" stroke="#a8a8a8" stroke-width="3.3" stroke-linecap="butt" stroke-linejoin="round" fill="none"/><path d="M621.0 126.8 L621.1 173.8" transform="translate(0.47 0.00)" stroke="#d6d6d6" stroke-width="1.3" stroke-linecap="butt" stroke-linejoin="round" fill="none"/>
<path d="M974.4 237.4 L1056.1 251.6" stroke="#505050" stroke-width="8.4" stroke-linecap="butt" stroke-linejoin="round" fill="none"/><path d="M974.4 237.4 L1056.1 251.6" transform="translate(0.06 -0.33)" stroke="#848484" stroke-width="5.9" stroke-linecap="butt" stroke-linejoin="round" fill="none"/><path d="M974.4 237.4 L1056.1 251.6" transform="translate(0.21 -1.24)" stroke="#b8b8b8" stroke-width="2.3" stroke-linecap="butt" stroke-linejoin="round" fill="none"/>
<path d="M319.3 151.2 L468.9 174.6" stroke="#505050" stroke-width="6.8" stroke-linecap="butt" stroke-linejoin="round" fill="none"/><path d="M319.3 151.2 L468.9 174.6" transform="translate(0.04 -0.27)" stroke="#848484" stroke-width="4.8" stroke-linecap="butt" stroke-linejoin="round" fill="none"/><path d="M319.3 151.2 L468.9 174.6" transform="translate(0.16 -1.01)" stroke="#b8b8b8" stroke-width="1.9" stroke-linecap="butt" stroke-linejoin="round" fill="none"/>
<path d="M956.6 229.3 L635.0 114.1" stroke="#5c5c5c" stroke-width="10.8" stroke-linecap="butt" stroke-linejoin="round" fill="none"/><path d="M956.6 229.3 L635.0 114.1" transform="translate(0.15 -0.41)" stroke="#a2a2a2" stroke-width="7.5" stroke-linecap="butt" stroke-linejoin="round" fill="none"/><path d="M956.6 229.3 L635.0 114.1" transform="translate(0.54 -1.52)" stroke="#d6d6d6" stroke-width="3.0" stroke-linecap="butt" stroke-linejoin="round" fill="none"/>
<path d="M794.9 171.3 L731.8 148.8" stroke="#383838" stroke-width="11.0" stroke-linecap="butt" stroke-linejoin="round" fill="none"/><path d="M794.9 171.3 L731.8 148.8" transform="translate(0.15 -0.42)" stroke="#5c5c5c" stroke-width="7.7" stroke-linecap="butt" stroke-linejoin="round" fill="none"/><path d="M794.9 171.3 L731.8 148.8" transform="translate(0.56 -1.56)" stroke="#868686" stroke-width="3.1" stroke-linecap="butt" stroke-linejoin="round" fill="none"/>
<ellipse cx="140.2" cy="546.5" rx="19.0" ry="1.9" fill="#585858"/>
<path d="M971.5 251.4 L971.5 243.0 Q971.5 234.6 963.6 231.8 L941.8 224.0" stroke="#565656" stroke-width="11.1" stroke-linecap="butt" stroke-linejoin="round" fill="none"/><path d="M971.5 251.4 L971.5 243.0 Q971.5 234.6 963.6 231.8 L941.8 224.0" transform="translate(-0.33 -0.44)" stroke="#8c8c8c" stroke-width="7.7" stroke-linecap="butt" stroke-linejoin="round" fill="none"/><path d="M971.5 251.4 L971.5 243.0 Q971.5 234.6 963.6 231.8 L941.8 224.0" transform="translate(-0.89 -1.44)" stroke="#bcbcbc" stroke-width="3.1" stroke-linecap="butt" stroke-linejoin="round" fill="none"/>
<path d="M940.0 223.3 L930.8 220.0" stroke="#5c5c5c" stroke-width="11.2" stroke-linecap="butt" stroke-linejoin="round" fill="none"/><path d="M940.0 223.3 L930.8 220.0" transform="translate(0.15 -0.42)" stroke="#868686" stroke-width="7.9" stroke-linecap="butt" stroke-linejoin="round" fill="none"/><path d="M940.0 223.3 L930.8 220.0" transform="translate(0.57 -1.59)" stroke="#adadad" stroke-width="3.1" stroke-linecap="butt" stroke-linejoin="round" fill="none"/>
<ellipse cx="975.4" cy="548.7" rx="19.1" ry="1.9" fill="#585858"/>
<path d="M137.2 532.3 L137.6 246.9" stroke="#787878" stroke-width="12.2" stroke-linecap="butt" stroke-linejoin="round" fill="none"/><path d="M137.2 532.3 L137.6 246.9" transform="translate(0.24 0.00)" stroke="#adadad" stroke-width="8.5" stroke-linecap="butt" stroke-linejoin="round" fill="none"/><path d="M137.2 532.3 L137.6 246.9" transform="translate(1.22 0.00)" stroke="#dedede" stroke-width="3.4" stroke-linecap="butt" stroke-linejoin="round" fill="none"/>
<path d="M137.5 269.7 L137.6 246.9" stroke="#5c5c5c" stroke-width="12.4" stroke-linecap="butt" stroke-linejoin="round" fill="none"/><path d="M137.5 269.7 L137.6 246.9" transform="translate(0.25 0.00)" stroke="#868686" stroke-width="8.7" stroke-linecap="butt" stroke-linejoin="round" fill="none"/><path d="M137.5 269.7 L137.6 246.9" transform="translate(1.24 0.00)" stroke="#adadad" stroke-width="3.5" stroke-linecap="butt" stroke-linejoin="round" fill="none"/>
<path d="M137.2 545.9 L137.2 530.7" stroke="#5c5c5c" stroke-width="12.7" stroke-linecap="butt" stroke-linejoin="round" fill="none"/><path d="M137.2 545.9 L137.2 530.7" transform="translate(0.25 0.00)" stroke="#868686" stroke-width="8.9" stroke-linecap="butt" stroke-linejoin="round" fill="none"/><path d="M137.2 545.9 L137.2 530.7" transform="translate(1.27 0.00)" stroke="#adadad" stroke-width="3.6" stroke-linecap="butt" stroke-linejoin="round" fill="none"/>
<path d="M510.4 85.3 L613.2 108.4" stroke="#666666" stroke-width="10.1" stroke-linecap="butt" stroke-linejoin="round" fill="none"/><path d="M510.4 85.3 L613.2 108.4" transform="translate(0.09 -0.39)" stroke="#a0a0a0" stroke-width="7.0" stroke-linecap="butt" stroke-linejoin="round" fill="none"/><path d="M510.4 85.3 L613.2 108.4" transform="translate(0.33 -1.47)" stroke="#d0d0d0" stroke-width="2.8" stroke-linecap="butt" stroke-linejoin="round" fill="none"/>
<path d="M601.9 105.8 L615.7 109.0" stroke="#383838" stroke-width="10.0" stroke-linecap="butt" stroke-linejoin="round" fill="none"/><path d="M601.9 105.8 L615.7 109.0" transform="translate(0.09 -0.39)" stroke="#5c5c5c" stroke-width="7.0" stroke-linecap="butt" stroke-linejoin="round" fill="none"/><path d="M601.9 105.8 L615.7 109.0" transform="translate(0.33 -1.47)" stroke="#868686" stroke-width="2.8" stroke-linecap="butt" stroke-linejoin="round" fill="none"/>
<path d="M137.2 540.2 L222.2 533.6" stroke="#505050" stroke-width="8.2" stroke-linecap="butt" stroke-linejoin="round" fill="none"/><path d="M137.2 540.2 L222.2 533.6" transform="translate(-0.03 -0.33)" stroke="#858585" stroke-width="5.7" stroke-linecap="butt" stroke-linejoin="round" fill="none"/><path d="M137.2 540.2 L222.2 533.6" transform="translate(-0.09 -1.22)" stroke="#b8b8b8" stroke-width="2.3" stroke-linecap="butt" stroke-linejoin="round" fill="none"/>
<path d="M972.3 534.3 L971.5 246.8" stroke="#787878" stroke-width="12.3" stroke-linecap="butt" stroke-linejoin="round" fill="none"/><path d="M972.3 534.3 L971.5 246.8" transform="translate(0.25 0.00)" stroke="#adadad" stroke-width="8.6" stroke-linecap="butt" stroke-linejoin="round" fill="none"/><path d="M972.3 534.3 L971.5 246.8" transform="translate(1.23 0.00)" stroke="#dedede" stroke-width="3.4" stroke-linecap="butt" stroke-linejoin="round" fill="none"/>
<path d="M971.6 269.7 L971.5 246.8" stroke="#5c5c5c" stroke-width="12.5" stroke-linecap="butt" stroke-linejoin="round" fill="none"/><path d="M971.6 269.7 L971.5 246.8" transform="translate(0.25 0.00)" stroke="#868686" stroke-width="8.8" stroke-linecap="butt" stroke-linejoin="round" fill="none"/><path d="M971.6 269.7 L971.5 246.8" transform="translate(1.25 0.00)" stroke="#adadad" stroke-width="3.5" stroke-linecap="butt" stroke-linejoin="round" fill="none"/>
<ellipse cx="315.3" cy="551.0" rx="19.6" ry="2.0" fill="#585858"/>
<path d="M972.4 548.1 L972.3 532.8" stroke="#5c5c5c" stroke-width="12.8" stroke-linecap="butt" stroke-linejoin="round" fill="none"/><path d="M972.4 548.1 L972.3 532.8" transform="translate(0.26 0.00)" stroke="#868686" stroke-width="8.9" stroke-linecap="butt" stroke-linejoin="round" fill="none"/><path d="M972.4 548.1 L972.3 532.8" transform="translate(1.28 0.00)" stroke="#adadad" stroke-width="3.6" stroke-linecap="butt" stroke-linejoin="round" fill="none"/>
<path d="M921.9 549.7 L972.4 542.2" stroke="#505050" stroke-width="9.1" stroke-linecap="butt" stroke-linejoin="round" fill="none"/><path d="M921.9 549.7 L972.4 542.2" transform="translate(-0.05 -0.36)" stroke="#858585" stroke-width="6.4" stroke-linecap="butt" stroke-linejoin="round" fill="none"/><path d="M921.9 549.7 L972.4 542.2" transform="translate(-0.20 -1.35)" stroke="#b8b8b8" stroke-width="2.6" stroke-linecap="butt" stroke-linejoin="round" fill="none"/>
<path d="M972.4 542.2 L1018.0 535.5" stroke="#505050" stroke-width="8.2" stroke-linecap="butt" stroke-linejoin="round" fill="none"/><path d="M972.4 542.2 L1018.0 535.5" transform="translate(-0.05 -0.33)" stroke="#858585" stroke-width="5.8" stroke-linecap="butt" stroke-linejoin="round" fill="none"/><path d="M972.4 542.2 L1018.0 535.5" transform="translate(-0.18 -1.22)" stroke="#b8b8b8" stroke-width="2.3" stroke-linecap="butt" stroke-linejoin="round" fill="none"/>
<circle cx="145.6" cy="237.8" r="4.8" fill="#707070" stroke="#444" stroke-width="1.2"/><circle cx="145.6" cy="237.8" r="1.6" fill="#3a3a3a"/>
<path d="M147.4 542.2 L312.3 546.3" stroke="#505050" stroke-width="8.7" stroke-linecap="butt" stroke-linejoin="round" fill="none"/><path d="M147.4 542.2 L312.3 546.3" transform="translate(0.01 -0.35)" stroke="#858585" stroke-width="6.1" stroke-linecap="butt" stroke-linejoin="round" fill="none"/><path d="M147.4 542.2 L312.3 546.3" transform="translate(0.03 -1.31)" stroke="#b8b8b8" stroke-width="2.4" stroke-linecap="butt" stroke-linejoin="round" fill="none"/>
<circle cx="975.8" cy="237.6" r="4.8" fill="#707070" stroke="#444" stroke-width="1.2"/><circle cx="975.8" cy="237.6" r="1.6" fill="#3a3a3a"/>
<path d="M637.8 133.8 L763.2 160.0" stroke="#666666" stroke-width="7.2" stroke-linecap="butt" stroke-linejoin="round" fill="none"/><path d="M637.8 133.8 L763.2 160.0" transform="translate(0.06 -0.28)" stroke="#a0a0a0" stroke-width="5.0" stroke-linecap="butt" stroke-linejoin="round" fill="none"/><path d="M637.8 133.8 L763.2 160.0" transform="translate(0.22 -1.05)" stroke="#d0d0d0" stroke-width="2.0" stroke-linecap="butt" stroke-linejoin="round" fill="none"/>
<path d="M150.6 228.8 L462.6 85.4" stroke="#4a4a4a" stroke-width="11.3" stroke-linecap="butt" stroke-linejoin="round" fill="none"/><path d="M150.6 228.8 L462.6 85.4" transform="translate(-0.19 -0.41)" stroke="#7c7c7c" stroke-width="7.9" stroke-linecap="butt" stroke-linejoin="round" fill="none"/><path d="M150.6 228.8 L462.6 85.4" transform="translate(-0.71 -1.54)" stroke="#b0b0b0" stroke-width="3.2" stroke-linecap="butt" stroke-linejoin="round" fill="none"/>
<path d="M288.5 165.4 L350.5 136.9" stroke="#383838" stroke-width="11.6" stroke-linecap="butt" stroke-linejoin="round" fill="none"/><path d="M288.5 165.4 L350.5 136.9" transform="translate(-0.19 -0.42)" stroke="#5c5c5c" stroke-width="8.2" stroke-linecap="butt" stroke-linejoin="round" fill="none"/><path d="M288.5 165.4 L350.5 136.9" transform="translate(-0.73 -1.59)" stroke="#868686" stroke-width="3.3" stroke-linecap="butt" stroke-linejoin="round" fill="none"/>
<path d="M314.9 259.8 L315.9 155.9" stroke="#787878" stroke-width="11.3" stroke-linecap="butt" stroke-linejoin="round" fill="none"/><path d="M314.9 259.8 L315.9 155.9" transform="translate(0.23 0.00)" stroke="#adadad" stroke-width="7.9" stroke-linecap="butt" stroke-linejoin="round" fill="none"/><path d="M314.9 259.8 L315.9 155.9" transform="translate(1.13 0.00)" stroke="#dedede" stroke-width="3.2" stroke-linecap="butt" stroke-linejoin="round" fill="none"/>
<path d="M137.6 251.5 L137.6 243.1 Q137.6 234.8 145.2 231.3 L163.7 222.8" stroke="#3a3a3a" stroke-width="11.0" stroke-linecap="butt" stroke-linejoin="round" fill="none"/><path d="M137.6 251.5 L137.6 243.1 Q137.6 234.8 145.2 231.3 L163.7 222.8" transform="translate(-0.33 -0.44)" stroke="#5e5e5e" stroke-width="7.7" stroke-linecap="butt" stroke-linejoin="round" fill="none"/><path d="M137.6 251.5 L137.6 243.1 Q137.6 234.8 145.2 231.3 L163.7 222.8" transform="translate(-0.88 -1.43)" stroke="#888888" stroke-width="3.1" stroke-linecap="butt" stroke-linejoin="round" fill="none"/>
<path d="M433.9 98.6 L463.4 85.0 Q480.6 77.1 498.5 83.5 L528.1 94.2" stroke="#3a3a3a" stroke-width="11.6" stroke-linecap="butt" stroke-linejoin="round" fill="none"/><path d="M433.9 98.6 L463.4 85.0 Q480.6 77.1 498.5 83.5 L528.1 94.2" transform="translate(-0.35 -0.46)" stroke="#5e5e5e" stroke-width="8.1" stroke-linecap="butt" stroke-linejoin="round" fill="none"/><path d="M433.9 98.6 L463.4 85.0 Q480.6 77.1 498.5 83.5 L528.1 94.2" transform="translate(-0.93 -1.51)" stroke="#888888" stroke-width="3.2" stroke-linecap="butt" stroke-linejoin="round" fill="none"/>
<path d="M312.4 536.3 L315.0 256.7" stroke="#787878" stroke-width="12.5" stroke-linecap="butt" stroke-linejoin="round" fill="none"/><path d="M312.4 536.3 L315.0 256.7" transform="translate(0.25 0.00)" stroke="#adadad" stroke-width="8.8" stroke-linecap="butt" stroke-linejoin="round" fill="none"/><path d="M312.4 536.3 L315.0 256.7" transform="translate(1.25 0.00)" stroke="#dedede" stroke-width="3.5" stroke-linecap="butt" stroke-linejoin="round" fill="none"/>
<path d="M314.9 259.8 L315.3 219.2" stroke="#787878" stroke-width="13.5" stroke-linecap="butt" stroke-linejoin="round" fill="none"/><path d="M314.9 259.8 L315.3 219.2" transform="translate(0.27 0.00)" stroke="#adadad" stroke-width="9.5" stroke-linecap="butt" stroke-linejoin="round" fill="none"/><path d="M314.9 259.8 L315.3 219.2" transform="translate(1.35 0.00)" stroke="#dedede" stroke-width="3.8" stroke-linecap="butt" stroke-linejoin="round" fill="none"/>
<path d="M312.3 550.4 L312.4 534.7" stroke="#5c5c5c" stroke-width="13.1" stroke-linecap="butt" stroke-linejoin="round" fill="none"/><path d="M312.3 550.4 L312.4 534.7" transform="translate(0.26 0.00)" stroke="#868686" stroke-width="9.1" stroke-linecap="butt" stroke-linejoin="round" fill="none"/><path d="M312.3 550.4 L312.4 534.7" transform="translate(1.31 0.00)" stroke="#adadad" stroke-width="3.7" stroke-linecap="butt" stroke-linejoin="round" fill="none"/>
<circle cx="967.2" cy="236.1" r="4.9" fill="#707070" stroke="#444" stroke-width="1.2"/><circle cx="967.2" cy="236.1" r="1.6" fill="#3a3a3a"/>
<path d="M319.3 155.9 L646.7 143.5" stroke="#767676" stroke-width="5.2" stroke-linecap="butt" stroke-linejoin="round" fill="none"/><path d="M319.3 155.9 L646.7 143.5" transform="translate(-0.01 -0.21)" stroke="#a8a8a8" stroke-width="3.6" stroke-linecap="butt" stroke-linejoin="round" fill="none"/><path d="M319.3 155.9 L646.7 143.5" transform="translate(-0.03 -0.77)" stroke="#d6d6d6" stroke-width="1.4" stroke-linecap="butt" stroke-linejoin="round" fill="none"/>
<path d="M450.6 96.8 L513.4 93.9" stroke="#767676" stroke-width="5.2" stroke-linecap="butt" stroke-linejoin="round" fill="none"/><path d="M450.6 96.8 L513.4 93.9" transform="translate(-0.01 -0.21)" stroke="#a8a8a8" stroke-width="3.6" stroke-linecap="butt" stroke-linejoin="round" fill="none"/><path d="M450.6 96.8 L513.4 93.9" transform="translate(-0.04 -0.77)" stroke="#d6d6d6" stroke-width="1.4" stroke-linecap="butt" stroke-linejoin="round" fill="none"/>
<path d="M483.7 97.7 L483.7 149.7" stroke="#767676" stroke-width="5.2" stroke-linecap="butt" stroke-linejoin="round" fill="none"/><path d="M483.7 97.7 L483.7 149.7" transform="translate(0.10 0.00)" stroke="#a8a8a8" stroke-width="3.6" stroke-linecap="butt" stroke-linejoin="round" fill="none"/><path d="M483.7 97.7 L483.7 149.7" transform="translate(0.52 0.00)" stroke="#d6d6d6" stroke-width="1.4" stroke-linecap="butt" stroke-linejoin="round" fill="none"/>
<path d="M868.6 219.0 L968.6 236.4" stroke="#505050" stroke-width="9.3" stroke-linecap="butt" stroke-linejoin="round" fill="none"/><path d="M868.6 219.0 L968.6 236.4" transform="translate(0.06 -0.36)" stroke="#848484" stroke-width="6.5" stroke-linecap="butt" stroke-linejoin="round" fill="none"/><path d="M868.6 219.0 L968.6 236.4" transform="translate(0.24 -1.37)" stroke="#b8b8b8" stroke-width="2.6" stroke-linecap="butt" stroke-linejoin="round" fill="none"/>
<ellipse cx="665.2" cy="559.9" rx="20.6" ry="2.1" fill="#585858"/>
<path d="M661.5 252.4 L661.4 145.6" stroke="#787878" stroke-width="11.9" stroke-linecap="butt" stroke-linejoin="round" fill="none"/><path d="M661.5 252.4 L661.4 145.6" transform="translate(0.24 0.00)" stroke="#adadad" stroke-width="8.3" stroke-linecap="butt" stroke-linejoin="round" fill="none"/><path d="M661.5 252.4 L661.4 145.6" transform="translate(1.19 0.00)" stroke="#dedede" stroke-width="3.3" stroke-linecap="butt" stroke-linejoin="round" fill="none"/>
<path d="M848.8 210.0 L498.8 83.6" stroke="#5c5c5c" stroke-width="11.9" stroke-linecap="butt" stroke-linejoin="round" fill="none"/><path d="M848.8 210.0 L498.8 83.6" transform="translate(0.16 -0.45)" stroke="#a2a2a2" stroke-width="8.4" stroke-linecap="butt" stroke-linejoin="round" fill="none"/><path d="M848.8 210.0 L498.8 83.6" transform="translate(0.61 -1.69)" stroke="#d6d6d6" stroke-width="3.3" stroke-linecap="butt" stroke-linejoin="round" fill="none"/>
<path d="M661.9 544.4 L661.5 249.1" stroke="#787878" stroke-width="13.2" stroke-linecap="butt" stroke-linejoin="round" fill="none"/><path d="M661.9 544.4 L661.5 249.1" transform="translate(0.26 0.00)" stroke="#adadad" stroke-width="9.3" stroke-linecap="butt" stroke-linejoin="round" fill="none"/><path d="M661.9 544.4 L661.5 249.1" transform="translate(1.32 0.00)" stroke="#dedede" stroke-width="3.7" stroke-linecap="butt" stroke-linejoin="round" fill="none"/>
<path d="M661.5 252.4 L661.5 209.6" stroke="#787878" stroke-width="14.3" stroke-linecap="butt" stroke-linejoin="round" fill="none"/><path d="M661.5 252.4 L661.5 209.6" transform="translate(0.29 0.00)" stroke="#adadad" stroke-width="10.0" stroke-linecap="butt" stroke-linejoin="round" fill="none"/><path d="M661.5 252.4 L661.5 209.6" transform="translate(1.43 0.00)" stroke="#dedede" stroke-width="4.0" stroke-linecap="butt" stroke-linejoin="round" fill="none"/>
<path d="M672.3 146.2 L603.8 121.5" stroke="#383838" stroke-width="12.2" stroke-linecap="butt" stroke-linejoin="round" fill="none"/><path d="M672.3 146.2 L603.8 121.5" transform="translate(0.17 -0.46)" stroke="#5c5c5c" stroke-width="8.6" stroke-linecap="butt" stroke-linejoin="round" fill="none"/><path d="M672.3 146.2 L603.8 121.5" transform="translate(0.62 -1.73)" stroke="#868686" stroke-width="3.4" stroke-linecap="butt" stroke-linejoin="round" fill="none"/>
<path d="M865.1 234.5 L865.1 225.2 Q865.0 215.8 856.3 212.7 L832.6 204.1" stroke="#565656" stroke-width="12.3" stroke-linecap="butt" stroke-linejoin="round" fill="none"/><path d="M865.1 234.5 L865.1 225.2 Q865.0 215.8 856.3 212.7 L832.6 204.1" transform="translate(-0.37 -0.49)" stroke="#8c8c8c" stroke-width="8.6" stroke-linecap="butt" stroke-linejoin="round" fill="none"/><path d="M865.1 234.5 L865.1 225.2 Q865.0 215.8 856.3 212.7 L832.6 204.1" transform="translate(-0.98 -1.60)" stroke="#bcbcbc" stroke-width="3.4" stroke-linecap="butt" stroke-linejoin="round" fill="none"/>
<path d="M661.9 559.2 L661.9 542.7" stroke="#5c5c5c" stroke-width="13.8" stroke-linecap="butt" stroke-linejoin="round" fill="none"/><path d="M661.9 559.2 L661.9 542.7" transform="translate(0.28 0.00)" stroke="#868686" stroke-width="9.7" stroke-linecap="butt" stroke-linejoin="round" fill="none"/><path d="M661.9 559.2 L661.9 542.7" transform="translate(1.38 0.00)" stroke="#adadad" stroke-width="3.9" stroke-linecap="butt" stroke-linejoin="round" fill="none"/>
<path d="M830.5 203.4 L820.5 199.7" stroke="#5c5c5c" stroke-width="12.5" stroke-linecap="butt" stroke-linejoin="round" fill="none"/><path d="M830.5 203.4 L820.5 199.7" transform="translate(0.17 -0.47)" stroke="#868686" stroke-width="8.7" stroke-linecap="butt" stroke-linejoin="round" fill="none"/><path d="M830.5 203.4 L820.5 199.7" transform="translate(0.64 -1.76)" stroke="#adadad" stroke-width="3.5" stroke-linecap="butt" stroke-linejoin="round" fill="none"/>
<ellipse cx="869.2" cy="565.1" rx="21.3" ry="2.1" fill="#585858"/>
<path d="M661.9 555.0 L853.2 559.7" stroke="#505050" stroke-width="9.5" stroke-linecap="butt" stroke-linejoin="round" fill="none"/><path d="M661.9 555.0 L853.2 559.7" transform="translate(0.01 -0.38)" stroke="#858585" stroke-width="6.6" stroke-linecap="butt" stroke-linejoin="round" fill="none"/><path d="M661.9 555.0 L853.2 559.7" transform="translate(0.04 -1.42)" stroke="#b8b8b8" stroke-width="2.7" stroke-linecap="butt" stroke-linejoin="round" fill="none"/>
<path d="M865.8 549.1 L865.1 229.4" stroke="#787878" stroke-width="13.7" stroke-linecap="butt" stroke-linejoin="round" fill="none"/><path d="M865.8 549.1 L865.1 229.4" transform="translate(0.27 0.00)" stroke="#adadad" stroke-width="9.6" stroke-linecap="butt" stroke-linejoin="round" fill="none"/><path d="M865.8 549.1 L865.1 229.4" transform="translate(1.37 0.00)" stroke="#dedede" stroke-width="3.8" stroke-linecap="butt" stroke-linejoin="round" fill="none"/>
<path d="M865.1 254.9 L865.1 229.4" stroke="#5c5c5c" stroke-width="13.9" stroke-linecap="butt" stroke-linejoin="round" fill="none"/><path d="M865.1 254.9 L865.1 229.4" transform="translate(0.28 0.00)" stroke="#868686" stroke-width="9.7" stroke-linecap="butt" stroke-linejoin="round" fill="none"/><path d="M865.1 254.9 L865.1 229.4" transform="translate(1.39 0.00)" stroke="#adadad" stroke-width="3.9" stroke-linecap="butt" stroke-linejoin="round" fill="none"/>
<path d="M865.8 564.4 L865.8 547.4" stroke="#5c5c5c" stroke-width="14.2" stroke-linecap="butt" stroke-linejoin="round" fill="none"/><path d="M865.8 564.4 L865.8 547.4" transform="translate(0.28 0.00)" stroke="#868686" stroke-width="10.0" stroke-linecap="butt" stroke-linejoin="round" fill="none"/><path d="M865.8 564.4 L865.8 547.4" transform="translate(1.42 0.00)" stroke="#adadad" stroke-width="4.0" stroke-linecap="butt" stroke-linejoin="round" fill="none"/>
<path d="M865.8 557.9 L921.9 549.7" stroke="#505050" stroke-width="9.1" stroke-linecap="butt" stroke-linejoin="round" fill="none"/><path d="M865.8 557.9 L921.9 549.7" transform="translate(-0.05 -0.36)" stroke="#858585" stroke-width="6.4" stroke-linecap="butt" stroke-linejoin="round" fill="none"/><path d="M865.8 557.9 L921.9 549.7" transform="translate(-0.20 -1.35)" stroke="#b8b8b8" stroke-width="2.6" stroke-linecap="butt" stroke-linejoin="round" fill="none"/>
<circle cx="870.3" cy="219.3" r="5.4" fill="#707070" stroke="#444" stroke-width="1.3"/><circle cx="870.3" cy="219.3" r="1.7" fill="#3a3a3a"/>
</g>
<g id="ann">
<line x1="60.6" y1="83.4" x2="60.6" y2="290.7" stroke="#444444" stroke-width="4.8"/><polygon points="60.6,71.4 68.2,86.9 53.0,86.9" fill="#444444"/><line x1="60.6" y1="331.0" x2="60.6" y2="537.0" stroke="#444444" stroke-width="4.8"/><polygon points="60.6,549.0 53.0,533.5 68.2,533.5" fill="#444444"/><line x1="1347.5" y1="299.8" x2="1347.5" y2="372.8" stroke="#444444" stroke-width="4.8"/><polygon points="1347.5,287.8 1355.1,303.3 1339.9,303.3" fill="#444444"/><line x1="1347.5" y1="414.0" x2="1347.5" y2="486.0" stroke="#444444" stroke-width="4.8"/><polygon points="1347.5,498.0 1339.9,482.5 1355.1,482.5" fill="#444444"/><line x1="129.1" y1="604.6" x2="440.0" y2="613.4" stroke="#444444" stroke-width="4.8"/><polygon points="117.1,604.3 132.8,597.1 132.4,612.3" fill="#444444"/><line x1="532.0" y1="616.1" x2="842.7" y2="625.0" stroke="#444444" stroke-width="4.8"/><polygon points="854.7,625.3 839.0,632.5 839.4,617.3" fill="#444444"/><line x1="909.1" y1="621.2" x2="1058.5" y2="594.4" stroke="#444444" stroke-width="4.8"/><polygon points="897.3,623.3 911.2,613.1 913.9,628.0" fill="#444444"/><line x1="1146.5" y1="576.2" x2="1295.0" y2="550.0" stroke="#444444" stroke-width="4.8"/><polygon points="1306.8,547.9 1292.9,558.1 1290.2,543.1" fill="#444444"/><line x1="266.3" y1="197.0" x2="266.3" y2="346.5" stroke="#d40f0f" stroke-width="4.8"/><polygon points="266.3,185.0 273.9,200.5 258.7,200.5" fill="#d40f0f"/><line x1="266.3" y1="386.0" x2="266.3" y2="534.0" stroke="#d40f0f" stroke-width="4.8"/><polygon points="266.3,546.0 258.7,530.5 273.9,530.5" fill="#d40f0f"/><line x1="341.3" y1="532.3" x2="434.0" y2="534.7" stroke="#d40f0f" stroke-width="4.8"/><polygon points="329.3,532.0 345.0,524.8 344.6,540.0" fill="#d40f0f"/><line x1="525.0" y1="537.2" x2="618.0" y2="539.7" stroke="#d40f0f" stroke-width="4.8"/><polygon points="630.0,540.0 614.3,547.2 614.7,532.0" fill="#d40f0f"/><text x="60.6" y="320" fill="#333" font-size="23.5" text-anchor="middle">3,09 m</text><text x="1348" y="400" fill="#333" font-size="23.5" text-anchor="middle">2 m</text><text x="486" y="619.6" fill="#333" font-size="23.5" text-anchor="middle">6 m</text><text x="1101.5" y="590.5" fill="#333" font-size="23.5" text-anchor="middle">15 m</text><rect x="223" y="348" width="84.5" height="34" rx="12" fill="#fff"/><text x="266.8" y="373" fill="#d40f0f" font-size="19.8" text-anchor="middle">2,42 m</text><rect x="435" y="517" width="89" height="35" rx="12" fill="#fff"/><text x="478.8" y="541" fill="#d40f0f" font-size="19.8" text-anchor="middle">3,10 m</text><circle cx="190" cy="208" r="16.5" fill="#333"/><text x="190" y="214.7" fill="#fff" font-size="19" text-anchor="middle">1</text><circle cx="325" cy="152" r="16.5" fill="#333"/><text x="325" y="158.7" fill="#fff" font-size="19" text-anchor="middle">2</text><circle cx="483" cy="125" r="16.5" fill="#333"/><text x="483" y="131.7" fill="#fff" font-size="19" text-anchor="middle">3</text><circle cx="864" cy="250" r="16.5" fill="#333"/><text x="864" y="256.7" fill="#fff" font-size="19" text-anchor="middle">4</text><circle cx="662" cy="406" r="16.5" fill="#333"/><text x="662" y="412.7" fill="#fff" font-size="19" text-anchor="middle">5</text><circle cx="754" cy="557" r="16.5" fill="#333"/><text x="754" y="563.7" fill="#fff" font-size="19" text-anchor="middle">6</text><circle cx="864.5" cy="557.5" r="16.5" fill="#333"/><text x="864.5" y="564.2" fill="#fff" font-size="19" text-anchor="middle">7</text>
</g>
</svg>
</body></html>
